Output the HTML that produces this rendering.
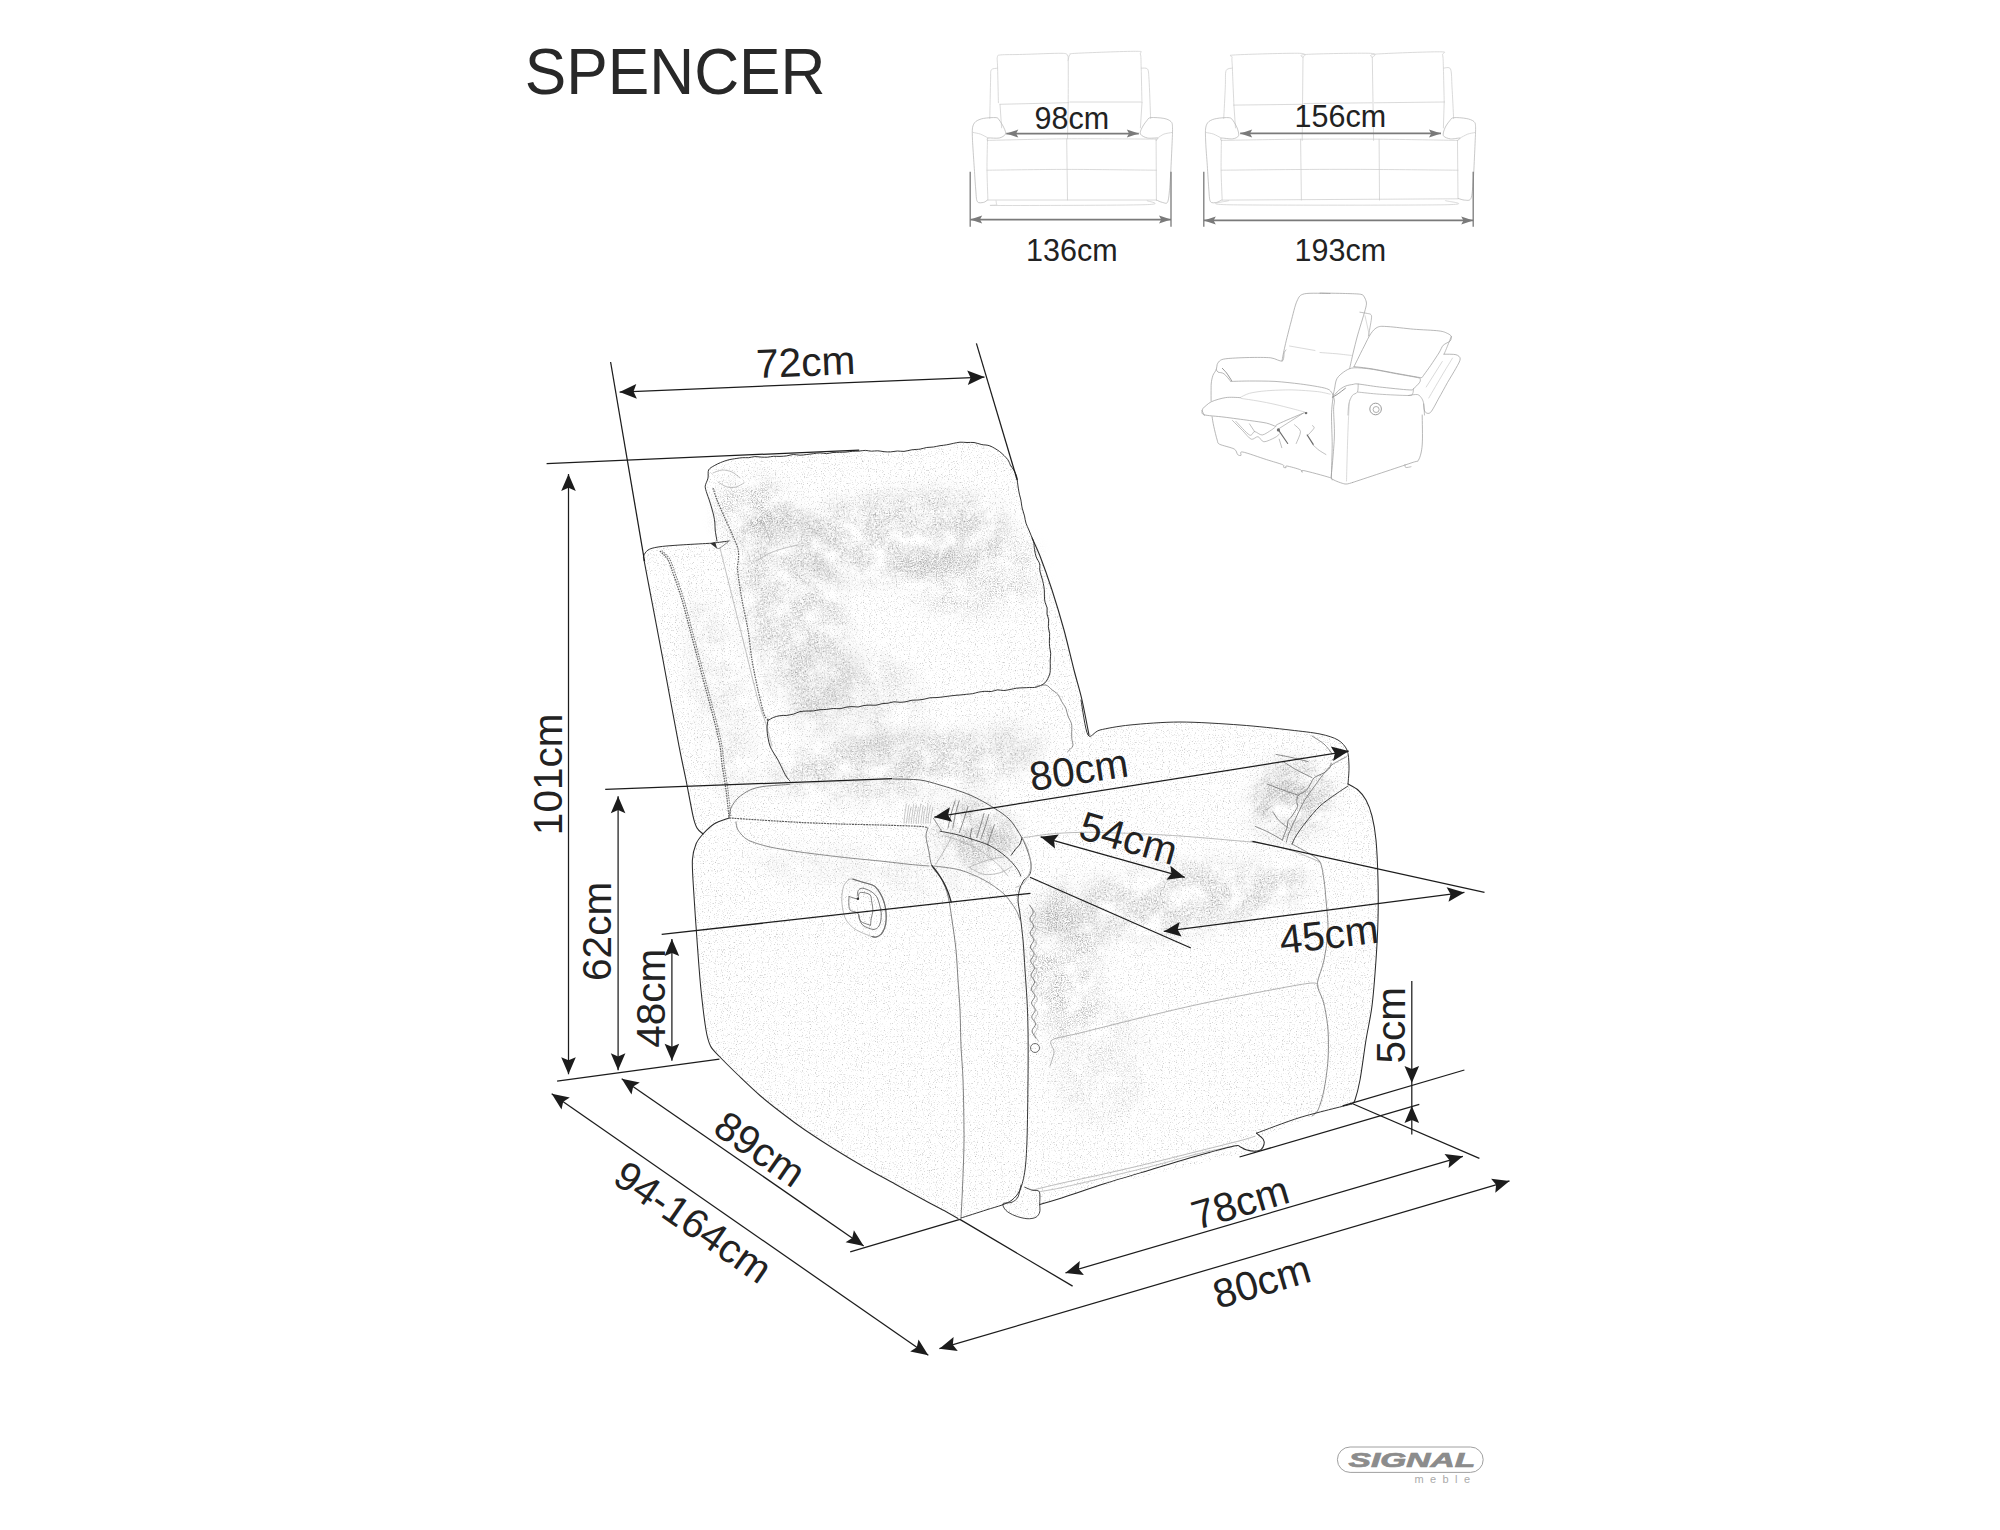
<!DOCTYPE html>
<html><head><meta charset="utf-8"><title>SPENCER</title>
<style>
html,body{margin:0;padding:0;background:#fff}
svg{display:block}
text{font-family:"Liberation Sans",sans-serif}
</style></head>
<body>
<svg width="2000" height="1530" viewBox="0 0 2000 1530">
<defs>
<filter id="grain" x="0" y="0" width="100%" height="100%" color-interpolation-filters="sRGB">
<feTurbulence type="fractalNoise" baseFrequency="0.85" numOctaves="2" seed="3" result="n"/>
<feColorMatrix in="n" type="matrix" values="0 0 0 0 0.55  0 0 0 0 0.55  0 0 0 0 0.55  1.7 0 0 0 -0.97" result="a"/>
<feComposite in="a" in2="SourceGraphic" operator="in"/>
</filter>
<filter id="shade" x="-30%" y="-30%" width="160%" height="160%" color-interpolation-filters="sRGB">
<feGaussianBlur in="SourceGraphic" stdDeviation="9" result="b"/>
<feTurbulence type="fractalNoise" baseFrequency="0.8" numOctaves="2" seed="11" result="n"/>
<feColorMatrix in="n" type="matrix" values="0 0 0 0 0.45  0 0 0 0 0.45  0 0 0 0 0.45  2.4 0 0 0 -1.04" result="a"/>
<feTurbulence type="fractalNoise" baseFrequency="0.045" numOctaves="3" seed="5" result="c"/>
<feColorMatrix in="c" type="matrix" values="0 0 0 0 0  0 0 0 0 0  0 0 0 0 0  3 0 0 0 -0.8" result="ca"/>
<feComposite in="a" in2="b" operator="in" result="r1"/>
<feComposite in="r1" in2="ca" operator="in"/>
</filter>
</defs>
<rect width="2000" height="1530" fill="#fff"/>
<path d="M644 560L643.6 556L648 550L658 547L680 545L708 543.4L714 543L715.6 530L714 516L709 500L706 486L709 470L720 462L736 458L780 456L820 453.6L859 450.4L884 451L904 452L920 448.4L940 446L960 442.4L974 442.4L990 445.6L1000 451L1008 459L1014 470L1018 482L1021 500L1024 516L1029 530L1033 542L1040 556L1052 590L1064 630L1074 670L1082 700L1089 735L1100 730L1130 725L1180 722L1240 725L1290 730L1320 734L1338 740L1347 750L1349 766L1348 784L1358 790L1366 800L1372 816L1376 840L1378 880L1378 920L1376 960L1372 1006L1366 1040L1360 1080L1355 1100L1352 1104L1312 1116L1262 1138L1264 1145L1260 1151L1246 1153L1105.3 1185.5L1042.2 1203.5L1036.2 1217.1L1027.2 1217.8L1015.2 1215.6L1006.1 1210.3L1003.1 1204.3L985.1 1210.3L958.8 1218.6L947.5 1212.5L925 1200.5L895 1184L865 1167.5L835 1149.5L805 1130L782.5 1113.5L760 1095.5L737.5 1074.5L719.5 1056.5L710.5 1046L706 1030L701 990L697 940L693.6 890L692.4 860L696 844L703 834L697 828L693 816L686 780L679 746L663 660L652 602Z" fill="#f6f6f6" stroke="none" filter="url(#grain)"/>
<ellipse cx="795" cy="610" rx="50" ry="120" transform="rotate(-12 795 610)" fill="#000" opacity="0.72" filter="url(#shade)"/>
<ellipse cx="900" cy="535" rx="110" ry="45" transform="rotate(-5 900 535)" fill="#000" opacity="0.72" filter="url(#shade)"/>
<ellipse cx="970" cy="570" rx="70" ry="45" transform="rotate(0 970 570)" fill="#000" opacity="0.5" filter="url(#shade)"/>
<ellipse cx="830" cy="690" rx="40" ry="50" transform="rotate(-10 830 690)" fill="#000" opacity="0.43" filter="url(#shade)"/>
<ellipse cx="900" cy="765" rx="130" ry="32" transform="rotate(-5 900 765)" fill="#000" opacity="0.72" filter="url(#shade)"/>
<ellipse cx="1010" cy="745" rx="40" ry="25" transform="rotate(-5 1010 745)" fill="#000" opacity="0.36" filter="url(#shade)"/>
<ellipse cx="975" cy="835" rx="45" ry="35" transform="rotate(25 975 835)" fill="#000" opacity="0.72" filter="url(#shade)"/>
<ellipse cx="1290" cy="800" rx="45" ry="40" transform="rotate(-30 1290 800)" fill="#000" opacity="0.72" filter="url(#shade)"/>
<ellipse cx="1170" cy="900" rx="140" ry="34" transform="rotate(-8 1170 900)" fill="#000" opacity="0.72" filter="url(#shade)"/>
<ellipse cx="1065" cy="960" rx="35" ry="80" transform="rotate(0 1065 960)" fill="#000" opacity="0.65" filter="url(#shade)"/>
<ellipse cx="1100" cy="1060" rx="50" ry="60" transform="rotate(0 1100 1060)" fill="#000" opacity="0.29" filter="url(#shade)"/>
<ellipse cx="752" cy="512" rx="35" ry="35" transform="rotate(0 752 512)" fill="#000" opacity="0.65" filter="url(#shade)"/>
<ellipse cx="980" cy="832" rx="32" ry="24" transform="rotate(25 980 832)" fill="#000" opacity="0.72" filter="url(#shade)"/>
<ellipse cx="1288" cy="795" rx="30" ry="30" transform="rotate(-30 1288 795)" fill="#000" opacity="0.58" filter="url(#shade)"/>
<ellipse cx="884" cy="712" rx="40" ry="60" transform="rotate(-10 884 712)" fill="#000" opacity="0.43" filter="url(#shade)"/>
<ellipse cx="720" cy="700" rx="25" ry="110" transform="rotate(-12 720 700)" fill="#000" opacity="0.36" filter="url(#shade)"/>
<ellipse cx="870" cy="870" rx="120" ry="20" transform="rotate(5 870 870)" fill="#000" opacity="0.29" filter="url(#shade)"/>
<path d="M717 541C716.7 539.4 715.5 532.8 715.2 530.1C714.9 527.4 715.1 525.1 714.9 523C714.7 520.9 714.3 518.3 713.8 516C713.3 513.8 712.3 510.4 711.7 508C711 505.5 709.9 502.2 709.2 499.9C708.5 497.7 707.4 495.2 706.8 493.1C706.2 491.1 705.1 488.4 705.2 486.2C705.4 483.9 707.5 480.5 708 478.1C708.5 475.7 707.7 471.8 708.6 469.9C709.6 468.1 712.5 466.7 714.2 465.7C716 464.6 718.4 463.5 720.5 462.6C722.5 461.8 725.6 460.6 728 460C730.3 459.3 734 458.9 736.1 458.5C738.3 458.2 740.4 457.8 742.3 457.7C744.2 457.5 746.7 457.8 748.6 457.7C750.5 457.5 752.9 456.7 754.8 456.6C756.7 456.5 759.3 457 761.2 457.1C763 457.2 765.6 457.3 767.5 457.2C769.3 457 771.8 456.4 773.7 456.3C775.6 456.2 778.1 456.5 780 456.4C782 456.3 784.7 456.2 786.7 455.9C788.7 455.6 791.3 454.6 793.3 454.5C795.3 454.4 798 455.2 800 455.2C802 455.2 804.7 454.8 806.7 454.5C808.7 454.3 811.3 453.9 813.3 453.7C815.3 453.4 818 452.9 820 452.9C821.9 452.8 824.6 453.7 826.5 453.6C828.5 453.6 831 452.7 833 452.5C834.9 452.3 837.6 452.4 839.5 452.3C841.5 452.3 844.1 452.2 846 452.1C848 451.9 850.6 451.4 852.5 451.3C854.5 451.1 857.1 451.2 859.1 451.1C861 450.9 863.4 450.4 865.3 450.4C867.1 450.4 869.6 451.1 871.5 451.2C873.4 451.2 875.9 450.7 877.8 450.8C879.6 450.8 882.1 451.5 884 451.7C885.9 451.9 888.6 452 890.6 451.9C892.6 451.8 895.4 451.1 897.4 451C899.4 450.9 901.8 451.6 904 451.4C906.2 451.2 909.5 450.1 911.9 449.8C914.3 449.4 918 449.5 920.2 449.1C922.4 448.8 924.7 447.8 926.7 447.5C928.6 447.2 931.4 447.3 933.4 447C935.4 446.7 938 446 940 445.7C942 445.4 944.7 445.2 946.7 444.8C948.7 444.5 951.3 443.8 953.3 443.4C955.3 443 957.9 442.3 960 442.2C962 442 964.9 442.5 967 442.5C969.1 442.6 971.8 442.2 974 442.5C976.2 442.8 979.5 444.1 981.9 444.6C984.3 445.1 987.3 444.8 989.9 445.9C992.6 446.9 997 449.6 999.7 451.6C1002.3 453.6 1006 457.4 1007.6 459.4C1009.2 461.4 1009.4 463.3 1010.3 464.9C1011.2 466.5 1012.8 468.5 1013.8 470.1C1014.7 471.8 1016 474 1016.5 475.8C1017.1 477.6 1017.2 480.3 1017.5 482.2C1017.7 484 1018 486.3 1018.3 488.1C1018.6 489.9 1019 492.3 1019.4 494.1C1019.8 495.9 1020.5 497.9 1020.9 500C1021.3 502.1 1021.6 505.7 1022.2 508.1C1022.7 510.4 1023.9 513.6 1024.5 515.9C1025 518.2 1025.3 521.1 1026 523.2C1026.7 525.3 1028.1 528.1 1028.9 530C1029.7 531.9 1030.6 534.1 1031.3 535.9C1032 537.7 1033.2 539.7 1033.7 541.8C1034.1 543.8 1034.1 547.2 1034.5 549.5C1034.8 551.7 1035.5 554.7 1036.2 556.9C1037 559 1039.1 561.8 1039.6 563.8C1040.2 565.9 1039.5 568.6 1039.8 570.6C1040.1 572.6 1041.1 575.1 1041.6 577C1042.2 578.9 1042.9 581.4 1043.3 583.4C1043.7 585.3 1044.2 588 1044.3 589.9C1044.5 591.8 1044.3 594.2 1044.4 596.1C1044.5 597.9 1044.6 600.3 1045 602.1C1045.4 603.9 1046.8 606.1 1047.1 607.9C1047.4 609.7 1046.8 612.2 1047 614C1047.3 615.8 1048.5 618 1048.7 619.9C1048.9 621.8 1048.2 624.7 1048.3 626.7C1048.5 628.7 1049.4 631.3 1049.6 633.3C1049.8 635.3 1049.4 638.1 1049.4 640.1C1049.4 642.1 1049.4 644.7 1049.6 646.7C1049.8 648.7 1050.6 651.3 1050.7 653.3C1050.8 655.3 1050.3 658 1050.2 660C1050.1 662.1 1050.4 664.9 1050.3 667C1050.2 669.2 1050.5 671.7 1049.7 674.1C1048.9 676.5 1046.9 681 1044.9 682.9C1042.8 684.9 1038.6 686.4 1036.3 687.1C1034 687.8 1031.5 687.4 1029.5 687.5C1027.6 687.6 1025 687.8 1023 687.8C1021.1 687.9 1018.4 687.9 1016.5 688.2C1014.5 688.4 1012 689.2 1010.1 689.5C1008.2 689.9 1005.7 690.4 1003.8 690.5C1001.9 690.5 999.3 689.8 997.4 689.9C995.5 690.1 993.2 691.3 991.3 691.5C989.4 691.7 986.8 691.2 984.9 691.3C983 691.4 980.5 691.8 978.7 692.1C976.8 692.5 974.4 693.4 972.5 693.7C970.7 694 968.1 694.1 966.3 694.3C964.4 694.5 961.8 694.8 960 695C958.2 695.1 955.8 695.3 954 695.5C952.2 695.7 949.8 696 948 696.2C946.2 696.5 943.8 696.8 942 697C940.2 697.2 937.8 697.5 936 697.6C934.2 697.7 931.7 697.6 929.9 697.8C928.1 698 925.8 698.9 924 699.2C922.2 699.5 919.8 699.9 918 700C916.2 700.2 913.8 700 912 700.2C910.2 700.5 907.8 701.4 906 701.7C904.3 702 901.9 702.3 900 702.3C898.2 702.3 895.7 701.7 893.9 701.8C892.1 702 889.8 702.9 888 703.2C886.2 703.4 883.8 703.4 882 703.7C880.2 704 877.9 705 876.1 705.2C874.3 705.4 871.8 705.1 870 705.1C868.2 705.2 865.8 705.2 864 705.5C862.2 705.7 859.9 706.8 858.1 707C856.3 707.1 853.8 706.6 852 706.6C850.2 706.6 847.8 706.9 846 707.2C844.2 707.5 842 708.5 840.1 708.7C838.2 708.9 835.3 708.4 833.3 708.5C831.3 708.6 828.7 709.2 826.7 709.4C824.7 709.6 822 709.5 820 709.7C818 709.9 815.4 710.7 813.4 710.9C811.4 711.1 808.6 710.9 806.6 711C804.6 711.1 801.9 711.2 800 711.6C798 712.1 795.5 713.5 793.5 714.1C791.5 714.6 788.8 715.1 786.8 715.4C784.8 715.6 781.9 715.4 779.9 715.7C778 716 775.5 716.6 773.8 717.3C772 718 769 719.9 768.1 720.4" stroke="#2b2b2b" stroke-width="0.96" fill="none" stroke-linecap="round" stroke-linejoin="round"/>
<path d="M768 720C767.4 719.1 765.5 718.5 764 714C762.5 709.5 759.8 698.1 758 690C756.2 681.9 753.5 669 752 660C750.5 651 749.5 639 748 630C746.5 621 743.6 609 742 600C740.4 591 738.1 576 737.6 570C737.1 564 738.3 563.1 738.4 560C738.5 556.9 739 552.9 738 549C737 545.1 734.1 539 732 534C729.9 529 726.2 521.1 724 516C721.8 510.9 718.6 504.2 717 500C715.4 495.8 713.6 489.8 713 488" stroke="#666" stroke-width="1.28" fill="none" stroke-linecap="butt" stroke-linejoin="round" stroke-dasharray="1.6 1"/>
<path d="M644 560C645.2 566.3 649.1 587 652 602C654.9 617 659 638.4 663 660C667 681.6 675.5 728 679 746C682.5 764 683.9 769.5 686 780C688.1 790.5 691.4 808.8 693 816C694.6 823.2 695.5 825.3 697 828C698.5 830.7 702.1 833.1 703 834" stroke="#2b2b2b" stroke-width="1.12" fill="none" stroke-linecap="round" stroke-linejoin="round"/>
<path d="M644 560C643.9 559.4 643 557.5 643.6 556C644.2 554.5 645.8 551.4 648 550C650.2 548.6 653.2 547.8 658 547C662.8 546.2 672.5 545.5 680 545C687.5 544.5 702.9 543.7 708 543.4C713.1 543.1 710.9 543.4 714 543C717.1 542.6 726.8 541.3 729 541" stroke="#2b2b2b" stroke-width="0.96" fill="none" stroke-linecap="round" stroke-linejoin="round"/>
<path d="M660 551C661.2 552.4 665.9 556.2 668 560C670.1 563.8 671.9 570 674 576C676.1 582 679.6 591.9 682 600C684.4 608.1 687.6 621 690 630C692.4 639 695.6 651 698 660C700.4 669 703.6 681 706 690C708.4 699 711.9 711.6 714 720C716.1 728.4 718.8 739.4 720 746C721.2 752.6 721.1 757.4 722 764C722.9 770.6 725.1 783.4 726 790C726.9 796.6 727.5 803.8 728 808C728.5 812.2 728.9 816.5 729 818" stroke="#5c5c5c" stroke-width="1.2" fill="none" stroke-linecap="butt" stroke-linejoin="round" stroke-dasharray="1.5 1"/>
<path d="M661.9 550.5C663.1 551.9 667.8 555.8 669.9 559.5C672 563.2 673.8 569.5 675.9 575.5C678 581.5 681.5 591.4 683.9 599.5C686.3 607.6 689.5 620.5 691.9 629.5C694.3 638.5 697.5 650.5 699.9 659.5C702.3 668.5 705.5 680.5 707.9 689.5C710.3 698.5 713.8 711.1 715.9 719.5C718 727.9 720.7 738.9 721.9 745.5C723.1 752.1 723 756.9 723.9 763.5C724.8 770.1 727 782.9 727.9 789.5C728.8 796.1 729.4 803.3 729.9 807.5C730.4 811.7 730.8 816 730.9 817.5" stroke="#777" stroke-width="1.04" fill="none" stroke-linecap="butt" stroke-linejoin="round" stroke-dasharray="1.5 1"/>
<path d="M720 548C721.2 552.8 725.3 569.2 728 580C730.7 590.8 735 608 738 620C741 632 745 648 748 660C751 672 755.3 690.4 758 700C760.7 709.6 763.9 717.1 766 724C768.1 730.9 771.1 742.7 772 746" stroke="#a9a9a9" stroke-width="0.72" fill="none" stroke-linecap="round" stroke-linejoin="round"/>
<path d="M1032 538C1033.2 540.7 1037 548.2 1040 556C1043 563.8 1048.4 578.9 1052 590C1055.6 601.1 1060.7 618 1064 630C1067.3 642 1071.3 659.5 1074 670C1076.7 680.5 1079.8 690.2 1082 700C1084.2 709.8 1088 729.8 1089 735" stroke="#2b2b2b" stroke-width="1.12" fill="none" stroke-linecap="round" stroke-linejoin="round"/>
<path d="M768 720C767.9 721.5 766.7 726.1 767 730C767.3 733.9 768.4 741.5 770 746C771.6 750.5 775.6 755.5 778 760C780.4 764.5 784.2 772.9 786 776C787.8 779.1 789.4 780.2 790 781" stroke="#2b2b2b" stroke-width="0.96" fill="none" stroke-linecap="round" stroke-linejoin="round"/>
<path d="M1036 686.4C1037.5 686.2 1043.6 684.6 1046 685.1C1048.4 685.6 1050.1 688.4 1051.8 689.7C1053.6 691.1 1056.3 692.6 1057.8 694.3C1059.2 696 1060.3 699.2 1061.5 701.3C1062.7 703.3 1064.8 705.9 1065.8 708.1C1066.7 710.4 1067.1 713.8 1068 716.2C1068.9 718.5 1071 721.6 1071.5 723.8C1072.1 726.1 1071.7 729.1 1071.7 731.3C1071.7 733.6 1071.6 736.5 1071.8 738.7C1072 740.9 1073.4 744.1 1072.8 746C1072.2 748 1068.4 750.8 1067.6 751.7" stroke="#6e6e6e" stroke-width="0.8" fill="none" stroke-linecap="round" stroke-linejoin="round"/>
<path d="M729 818C726.8 818.9 717.9 821.6 714 824C710.1 826.4 705.7 831 703 834C700.3 837 697.6 840.1 696 844C694.4 847.9 692.8 853.1 692.4 860C692 866.9 692.9 878 693.6 890C694.3 902 695.9 925 697 940C698.1 955 699.6 976.5 701 990C702.4 1003.5 704.6 1021.6 706 1030C707.4 1038.4 708.5 1042 710.5 1046C712.5 1050 715.4 1052.2 719.5 1056.5C723.5 1060.8 731.4 1068.6 737.5 1074.5C743.6 1080.3 753.2 1089.6 760 1095.5C766.7 1101.3 775.7 1108.3 782.5 1113.5C789.2 1118.7 797.1 1124.6 805 1130C812.9 1135.4 826 1143.9 835 1149.5C844 1155.1 856 1162.3 865 1167.5C874 1172.7 886 1179 895 1184C904 1188.9 917.1 1196.2 925 1200.5C932.9 1204.8 942.5 1209.8 947.5 1212.5C952.4 1215.2 956.4 1217.6 958 1218.5" stroke="#2b2b2b" stroke-width="1.04" fill="none" stroke-linecap="round" stroke-linejoin="round"/>
<path d="M729 818C729.3 816.5 729.6 811 731 808C732.4 805 735.1 800.7 738 798C740.9 795.3 746.1 791.7 750 790C753.9 788.3 758 787.2 764 786.4C770 785.6 786.1 784.7 790 784.4" stroke="#6e6e6e" stroke-width="0.88" fill="none" stroke-linecap="round" stroke-linejoin="round"/>
<path d="M790 784.4C794.5 784.1 804.5 783.2 820 782.4C835.5 781.6 882 779.5 893 779" stroke="#cfcfcf" stroke-width="0.72" fill="none" stroke-linecap="round" stroke-linejoin="round"/>
<path d="M893 779C897 779.1 913 779.1 920 780C927 780.9 932.5 782.8 940 785C947.5 787.2 961.9 791.5 970 795C978.1 798.5 988 804.2 994 808C1000 811.8 1005.8 815.5 1010 820C1014.2 824.5 1019.3 833.2 1022 838C1024.7 842.8 1026.7 848.1 1028 852C1029.3 855.9 1030.7 860.7 1031 864C1031.3 867.3 1031 871.6 1030 874C1029 876.4 1024.9 879.1 1024 880" stroke="#444" stroke-width="0.88" fill="none" stroke-linecap="round" stroke-linejoin="round"/>
<path d="M729 818C733.6 818.3 749.4 819.3 760 820C770.6 820.7 788 821.8 800 822.4C812 823 828 823.6 840 824C852 824.4 868 824.6 880 825C892 825.4 912.8 825.9 920 826.4C927.2 826.9 926.8 827.8 928 828" stroke="#5a5a5a" stroke-width="1.12" fill="none" stroke-linecap="butt" stroke-linejoin="round" stroke-dasharray="2 0.8"/>
<path d="M736 822C736.3 823.2 736.2 827.3 738 830C739.8 832.7 743.2 837.5 748 840C752.8 842.5 762.2 845.2 770 847C777.8 848.8 789.5 850.5 800 852C810.5 853.5 828 855.6 840 857C852 858.4 869.5 859.9 880 861C890.5 862.1 902.6 863.6 910 864.4C917.4 865.1 926.1 865.8 929 866" stroke="#6e6e6e" stroke-width="0.8" fill="none" stroke-linecap="round" stroke-linejoin="round"/>
<path d="M928 828C927.7 829.2 925.9 832.4 926 836C926.1 839.6 928.1 847.5 929 852C929.9 856.5 930 861.8 932 866C934 870.2 939.6 875.5 942 880C944.4 884.5 946.5 890 948 896C949.5 902 950.8 911.9 952 920C953.2 928.1 955.1 941 956 950C956.9 959 957.4 971 958 980C958.6 989 959.5 1000.1 960 1010C960.5 1019.9 960.5 1035.5 961 1046C961.5 1056.5 962.5 1065.9 963 1080C963.5 1094.1 964.1 1123.5 964 1140C963.9 1156.5 962.9 1178.3 962.4 1190C961.9 1201.7 961.2 1213.8 961 1218" stroke="#6e6e6e" stroke-width="0.88" fill="none" stroke-linecap="round" stroke-linejoin="round"/>
<path d="M934 866C937.9 866.6 952.5 867.9 960 870C967.5 872.1 977.4 876.4 984 880C990.6 883.6 999.2 889.5 1004 894C1008.8 898.5 1013.6 906.1 1016 910C1018.4 913.9 1019.4 918.5 1020 920" stroke="#6e6e6e" stroke-width="0.8" fill="none" stroke-linecap="round" stroke-linejoin="round"/>
<path d="M1024 880C1023.4 881.2 1020.9 885 1020 888C1019.1 891 1018 896.1 1018 900C1018 903.9 1019.2 908 1020 914C1020.8 920 1022.2 931.6 1023 940C1023.8 948.4 1024.4 961 1025 970C1025.6 979 1026.5 991 1027 1000C1027.5 1009 1027.8 1018 1028 1030C1028.2 1042 1028.2 1063.5 1028 1080C1027.8 1096.5 1027.5 1126.5 1027 1140C1026.5 1153.5 1026 1162.5 1025 1170C1024 1177.5 1022 1185.5 1020 1190C1018 1194.5 1014.7 1197.8 1012 1200C1009.3 1202.2 1005.9 1203.5 1002 1205C998.1 1206.5 992.1 1208 986 1210C979.9 1212 964.8 1216.8 961 1218" stroke="#2b2b2b" stroke-width="0.96" fill="none" stroke-linecap="round" stroke-linejoin="round"/>
<path d="M1024 837.6C1027.9 837.1 1041.6 834.8 1050 834C1058.4 833.2 1069.5 832.5 1080 832.4C1090.5 832.2 1105 832.5 1120 833C1135 833.5 1160.2 834.6 1180 836C1199.8 837.4 1241.2 841.2 1252 842C1262.8 842.8 1246.3 840.4 1252 841.6C1257.7 842.8 1279.8 846.9 1290 850C1300.2 853.1 1315.5 860.2 1320 862" stroke="#a9a9a9" stroke-width="0.8" fill="none" stroke-linecap="round" stroke-linejoin="round"/>
<path d="M1292 844C1294.7 845.5 1305.8 851.3 1310 854C1314.2 856.7 1317.9 858.1 1320 862C1322.1 865.9 1323.1 874.3 1324 880C1324.9 885.7 1325.4 892.5 1326 900C1326.6 907.5 1328.3 921 1328 930C1327.7 939 1325.5 952.5 1324 960C1322.5 967.5 1318.9 975.8 1318 980C1317.1 984.2 1317.1 984.4 1318 988C1318.9 991.6 1322.5 997.7 1324 1004C1325.5 1010.3 1327.4 1021.6 1328 1030C1328.6 1038.4 1328.6 1051 1328 1060C1327.4 1069 1325.5 1082.5 1324 1090C1322.5 1097.5 1319.8 1106.1 1318 1110C1316.2 1113.9 1312.9 1115.1 1312 1116" stroke="#6e6e6e" stroke-width="0.8" fill="none" stroke-linecap="round" stroke-linejoin="round"/>
<path d="M1050 1066C1050.6 1063.9 1053.7 1055.9 1054 1052C1054.3 1048.1 1048.1 1042.8 1052 1040C1055.9 1037.2 1066.8 1036.3 1080 1033C1093.2 1029.7 1122 1022.4 1140 1018C1158 1013.6 1182 1007.9 1200 1004C1218 1000.1 1243.2 995.1 1260 992C1276.8 988.9 1303.3 983.6 1312 983C1320.7 982.4 1317.1 987.2 1318 988" stroke="#a9a9a9" stroke-width="0.88" fill="none" stroke-linecap="round" stroke-linejoin="round"/>
<path d="M1032.2 1190.2C1036.4 1189.2 1049.1 1186 1060 1183.5C1070.9 1181 1091.5 1176.8 1105 1173.7C1118.5 1170.7 1136.5 1166.5 1150 1163.2C1163.5 1160 1181.5 1155.4 1195 1152C1208.5 1148.6 1231 1143.1 1240 1140.7C1249 1138.4 1252.7 1136.9 1255 1136.2" stroke="#a9a9a9" stroke-width="0.8" fill="none" stroke-linecap="round" stroke-linejoin="round"/>
<path d="M1256.5 1133.2C1263 1130.9 1285.7 1121.9 1300 1117.5C1314.3 1113.1 1344.2 1106 1352 1104" stroke="#2b2b2b" stroke-width="0.96" fill="none" stroke-linecap="round" stroke-linejoin="round"/>
<path d="M1039.3 1191.7C1042.4 1191.2 1050.1 1190.1 1060 1188C1069.9 1185.9 1091.5 1180.7 1105 1177.5C1118.5 1174.3 1136.5 1170.1 1150 1166.7C1163.5 1163.3 1182.4 1157.7 1195 1154.5C1207.6 1151.4 1228.1 1147.3 1234 1146" stroke="#a9a9a9" stroke-width="0.72" fill="none" stroke-linecap="round" stroke-linejoin="round"/>
<path d="M1039.7 1204.5C1042.8 1203.6 1050.2 1201.6 1060 1198.5C1069.8 1195.3 1091.5 1187.8 1105 1183.5C1118.5 1179.2 1136.5 1174 1150 1170C1163.5 1165.9 1182.4 1160.1 1195 1156.5C1207.6 1152.9 1227.2 1147.5 1234 1146C1240.7 1144.5 1238.2 1146.2 1240 1146.7C1241.8 1147.3 1243.7 1149.1 1246 1149.7C1248.2 1150.4 1252.7 1151.2 1255 1151.2C1257.2 1151.2 1259.6 1150.8 1261 1149.7C1262.3 1148.7 1263.6 1146.1 1264 1144.5C1264.3 1142.9 1264.4 1140.9 1263.2 1139.2C1262.1 1137.6 1257.5 1134.1 1256.5 1133.2" stroke="#2b2b2b" stroke-width="1.04" fill="none" stroke-linecap="round" stroke-linejoin="round"/>
<path d="M1021 1185C1020.5 1186.8 1019.3 1194.4 1018 1197C1016.6 1199.6 1014.2 1201.2 1012 1202.2C1009.7 1203.3 1003.9 1202.5 1003 1203.7C1002.1 1205 1004.2 1208.7 1006 1210.5C1007.8 1212.3 1011.8 1214.5 1015 1215.7C1018.1 1217 1023.8 1218.5 1027 1218.7C1030.1 1219 1034.1 1218.3 1036 1217.2C1037.9 1216.2 1039.2 1213.9 1039.7 1212C1040.3 1210.1 1039.8 1207.5 1039.7 1204.5C1039.7 1201.5 1040.4 1193.9 1039.3 1191.7C1038.2 1189.6 1034.4 1190.9 1032.2 1190.2C1030.1 1189.6 1025.9 1187.7 1024.7 1187.2" stroke="#2b2b2b" stroke-width="0.88" fill="none" stroke-linecap="round" stroke-linejoin="round"/>
<path d="M1081 700C1082 705.2 1085.2 730.5 1088 735C1090.8 739.5 1093.7 731.5 1100 730C1106.3 728.5 1118 726.2 1130 725C1142 723.8 1163.5 722 1180 722C1196.5 722 1223.5 723.8 1240 725C1256.5 726.2 1278 728.6 1290 730C1302 731.4 1312.8 732.5 1320 734C1327.2 735.5 1334 737.6 1338 740C1342 742.4 1345.3 746.1 1347 750C1348.7 753.9 1348.8 760.9 1349 766C1349.2 771.1 1348.2 781.3 1348 784" stroke="#2b2b2b" stroke-width="0.96" fill="none" stroke-linecap="round" stroke-linejoin="round"/>
<path d="M1348 784C1349.5 784.9 1355.3 787.6 1358 790C1360.7 792.4 1363.9 796.1 1366 800C1368.1 803.9 1370.5 810 1372 816C1373.5 822 1375.1 830.4 1376 840C1376.9 849.6 1377.7 868 1378 880C1378.3 892 1378.3 908 1378 920C1377.7 932 1376.9 947.1 1376 960C1375.1 972.9 1373.5 994 1372 1006C1370.5 1018 1367.8 1028.9 1366 1040C1364.2 1051.1 1361.7 1071 1360 1080C1358.3 1089 1356.2 1096.4 1355 1100C1353.8 1103.6 1352.5 1103.4 1352 1104" stroke="#2b2b2b" stroke-width="1.04" fill="none" stroke-linecap="round" stroke-linejoin="round"/>
<path d="M1348 786C1346.2 787.2 1340.2 791 1336 794C1331.8 797 1324.5 801.8 1320 806C1315.5 810.2 1309.6 817.5 1306 822C1302.4 826.5 1298.1 832.7 1296 836C1293.9 839.3 1292.6 842.8 1292 844" stroke="#2b2b2b" stroke-width="0.88" fill="none" stroke-linecap="round" stroke-linejoin="round"/>
<path d="M848.2 880C849.6 878.9 851 878.9 852.9 879.1C854.9 879.4 858.2 880.8 861.2 881.8C864.2 882.7 870.5 884.1 872.9 885.3C875.4 886.4 876.2 887.6 877.6 889.4C879.1 891.3 881.2 895 882.4 897.6C883.5 900.3 884.7 903.9 885.3 907.1C885.9 910.2 886.3 915.7 886.2 918.8C886.1 921.9 885.5 925.4 884.7 927.6C884 929.9 882.5 932.7 881.2 934.1C879.9 935.5 877.3 936.7 875.9 937.1C874.5 937.4 874 937.2 871.8 936.5C869.6 935.8 864 933.7 861.2 932.4C858.4 931 855.2 929.6 852.9 927.6C850.6 925.7 847.4 922.1 845.9 919.4C844.4 916.8 843.6 913.2 842.9 910C842.3 906.8 841.7 901.8 841.8 898.2C841.9 894.7 842.6 889.2 843.5 886.5C844.5 883.7 846.8 881.1 848.2 880Z" stroke="#a9a9a9" stroke-width="0.8" fill="none" stroke-linecap="round" stroke-linejoin="round"/>
<path d="M852.9 879.1C854.2 879.5 858.2 880.8 861.2 881.8C864.2 882.7 870.5 884.1 872.9 885.3C875.4 886.4 876.2 887.6 877.6 889.4C879.1 891.3 881.2 895 882.4 897.6C883.5 900.3 884.7 903.9 885.3 907.1C885.9 910.2 886.3 915.7 886.2 918.8C886.1 921.9 885.5 925.4 884.7 927.6C884 929.9 882.5 932.7 881.2 934.1C879.9 935.5 877.3 936.7 875.9 937.1C874.5 937.4 872.4 936.6 871.8 936.5" stroke="#6e6e6e" stroke-width="1.2" fill="none" stroke-linecap="round" stroke-linejoin="round"/>
<path d="M857.6 895.3C857.7 894.6 857.5 891.6 858.2 890.6C858.9 889.5 860.5 888.1 862.4 888.2C864.2 888.3 868.5 889.9 870.6 891.2C872.7 892.4 875.1 894.5 876.5 896.5C877.8 898.4 878.7 901.6 879.4 904.1C880.1 906.6 881 910.3 881.2 912.9C881.4 915.6 881 919.6 880.6 921.8C880.1 923.9 879.2 925.9 878.2 927.1C877.3 928.2 875.5 929.2 874.1 929.4C872.7 929.6 870.5 928.9 868.8 928.2C867.1 927.6 864.3 926.4 862.9 925.3C861.6 924.1 860.6 922.2 860 920.6C859.4 919 859 915.6 858.8 914.7" stroke="#6e6e6e" stroke-width="0.96" fill="none" stroke-linecap="round" stroke-linejoin="round"/>
<path d="M849.1 896.5C850.4 896.8 856.2 899.2 857.6 898.8C859.1 898.5 858.3 895.1 858.8 894.1C859.4 893.1 859.5 892.3 861.2 892.4C862.9 892.4 868.4 893.2 870 894.7C871.6 896.2 871.3 900.1 871.8 902.4C872.2 904.6 873 907.5 872.9 910C872.9 912.5 871.5 916.6 871.2 918.8C870.8 921 870.7 923.8 870.6 924.7" stroke="#6e6e6e" stroke-width="0.88" fill="none" stroke-linecap="round" stroke-linejoin="round"/>
<path d="M849.1 896.5C849.1 897.4 848.7 900.3 848.8 902.4C849 904.4 848.7 908.4 850 910C851.3 911.6 856.2 911.6 857.6 912.9C859.1 914.3 858.7 917.4 859.4 918.8C860.1 920.2 860.7 921.4 862.4 922.4C864 923.3 869.4 924.9 870.6 925.3" stroke="#6e6e6e" stroke-width="0.88" fill="none" stroke-linecap="round" stroke-linejoin="round"/>
<circle cx="857.9" cy="898.8" r="1.3" fill="#333"/>
<path d="M955.2 800.8C954.6 802.7 952.3 809.5 951.2 813.6C950.1 817.7 948.5 825.8 948 828" stroke="#6e6e6e" stroke-width="0.8" fill="none" stroke-linecap="round" stroke-linejoin="round"/>
<path d="M959.2 800.8C958.6 803 956.2 811.1 955.2 815.2C954.2 819.3 953.2 826.1 952.8 828" stroke="#6e6e6e" stroke-width="0.8" fill="none" stroke-linecap="round" stroke-linejoin="round"/>
<path d="M968 806.4C967.3 808.7 964.5 817.6 963.2 821.6C961.9 825.6 959.8 831.1 959.2 832.8" stroke="#6e6e6e" stroke-width="0.8" fill="none" stroke-linecap="round" stroke-linejoin="round"/>
<path d="M984 813.6C983.5 815.3 981.9 821.2 980.8 824.8C979.7 828.4 977.4 835.7 976.8 837.6" stroke="#6e6e6e" stroke-width="0.8" fill="none" stroke-linecap="round" stroke-linejoin="round"/>
<path d="M988.8 814.4C988.2 816.4 986 824.3 984.8 828C983.6 831.7 981.4 837.5 980.8 839.2" stroke="#6e6e6e" stroke-width="0.8" fill="none" stroke-linecap="round" stroke-linejoin="round"/>
<path d="M994.4 824.8C993.8 826.5 991.4 833.1 990.4 836C989.4 838.9 988.4 842.8 988 844" stroke="#6e6e6e" stroke-width="0.8" fill="none" stroke-linecap="round" stroke-linejoin="round"/>
<path d="M933.6 818.4C934.2 819.4 936.4 822.9 937.6 824.8C938.8 826.7 941 830.2 941.6 831.2" stroke="#6e6e6e" stroke-width="0.8" fill="none" stroke-linecap="round" stroke-linejoin="round"/>
<path d="M972 828C971.8 829.2 970.4 834.1 970.4 836C970.4 837.9 971.8 840.1 972 840.8" stroke="#6e6e6e" stroke-width="0.8" fill="none" stroke-linecap="round" stroke-linejoin="round"/>
<path d="M906.4 804C906.2 805.6 905.2 811.5 904.8 814.4C904.4 817.3 904.1 821.9 904 823.2" stroke="#a9a9a9" stroke-width="0.64" fill="none" stroke-linecap="round" stroke-linejoin="round"/>
<path d="M908.8 805.6C908.6 807.3 907.6 814.2 907.2 816.8C906.8 819.4 906.5 822.2 906.4 823.2" stroke="#a9a9a9" stroke-width="0.64" fill="none" stroke-linecap="round" stroke-linejoin="round"/>
<path d="M911.2 807.2C911 808.3 910 812 909.6 814.4C909.2 816.8 908.9 821.9 908.8 823.2" stroke="#a9a9a9" stroke-width="0.64" fill="none" stroke-linecap="round" stroke-linejoin="round"/>
<path d="M913.6 804C913.4 805.9 912.4 813.9 912 816.8C911.6 819.7 911.3 822.2 911.2 823.2" stroke="#a9a9a9" stroke-width="0.64" fill="none" stroke-linecap="round" stroke-linejoin="round"/>
<path d="M916 805.6C915.8 806.9 914.8 811.8 914.4 814.4C914 817 913.7 821.9 913.6 823.2" stroke="#a9a9a9" stroke-width="0.64" fill="none" stroke-linecap="round" stroke-linejoin="round"/>
<path d="M918.4 807.2C918.2 808.6 917.2 814.4 916.8 816.8C916.4 819.2 916.1 822.2 916 823.2" stroke="#a9a9a9" stroke-width="0.64" fill="none" stroke-linecap="round" stroke-linejoin="round"/>
<path d="M920.8 804C920.6 805.6 919.6 811.5 919.2 814.4C918.8 817.3 918.5 821.9 918.4 823.2" stroke="#a9a9a9" stroke-width="0.64" fill="none" stroke-linecap="round" stroke-linejoin="round"/>
<path d="M923.2 805.6C923 807.3 922 814.2 921.6 816.8C921.2 819.4 920.9 822.2 920.8 823.2" stroke="#a9a9a9" stroke-width="0.64" fill="none" stroke-linecap="round" stroke-linejoin="round"/>
<path d="M925.6 807.2C925.4 808.3 924.4 812 924 814.4C923.6 816.8 923.3 821.9 923.2 823.2" stroke="#a9a9a9" stroke-width="0.64" fill="none" stroke-linecap="round" stroke-linejoin="round"/>
<path d="M928 804C927.8 805.9 926.8 813.9 926.4 816.8C926 819.7 925.7 822.2 925.6 823.2" stroke="#a9a9a9" stroke-width="0.64" fill="none" stroke-linecap="round" stroke-linejoin="round"/>
<path d="M930.4 805.6C930.2 806.9 929.2 811.8 928.8 814.4C928.4 817 928.1 821.9 928 823.2" stroke="#a9a9a9" stroke-width="0.64" fill="none" stroke-linecap="round" stroke-linejoin="round"/>
<path d="M932.8 807.2C932.6 808.6 931.6 814.4 931.2 816.8C930.8 819.2 930.5 822.2 930.4 823.2" stroke="#a9a9a9" stroke-width="0.64" fill="none" stroke-linecap="round" stroke-linejoin="round"/>
<path d="M940 831.2C942.4 831.7 951.2 833.2 956 834.4C960.8 835.6 967.2 837.6 972 839.2C976.8 840.8 983.8 842.9 988 844.8C992.2 846.7 996.6 849.6 1000 852C1003.4 854.4 1007.8 858.2 1010.4 860.8C1013 863.4 1016 867.3 1017.6 869.6C1019.2 871.9 1020.3 875 1020.8 876" stroke="#2b2b2b" stroke-width="0.88" fill="none" stroke-linecap="round" stroke-linejoin="round"/>
<path d="M944.8 836C947.1 836.7 955.3 839 960 840.8C964.7 842.6 971.8 845.7 976 848C980.2 850.3 984.4 853.2 988 856C991.6 858.8 997 863.4 1000 866.4C1003 869.4 1006.8 874.6 1008 876" stroke="#a9a9a9" stroke-width="0.72" fill="none" stroke-linecap="round" stroke-linejoin="round"/>
<path d="M1022 837.6C1021.7 838.6 1021 842.2 1020 844C1019 845.8 1016.5 847.9 1015.2 849.6C1013.9 851.3 1011.8 854.4 1011.2 855.2" stroke="#2b2b2b" stroke-width="0.96" fill="none" stroke-linecap="round" stroke-linejoin="round"/>
<path d="M1022 837.6C1022.7 838.8 1025.3 842.8 1026.4 845.6C1027.5 848.4 1028.9 852.9 1029.6 856C1030.3 859.1 1031.4 863.4 1031.2 866.4C1031 869.4 1029.2 873.4 1028 876C1026.8 878.6 1025 882.3 1023.2 884C1021.4 885.7 1017.1 886.7 1016 887.2" stroke="#a9a9a9" stroke-width="0.8" fill="none" stroke-linecap="round" stroke-linejoin="round"/>
<path d="M932 865.6C932.8 866.7 935.9 870.4 937.6 872.8C939.3 875.2 941.6 878.7 943.2 881.6C944.8 884.5 946.8 888.9 948 892C949.2 895.1 950.7 900.5 951.2 902" stroke="#2b2b2b" stroke-width="1.28" fill="none" stroke-linecap="round" stroke-linejoin="round"/>
<path d="M936 864C937.1 862.2 941.4 855 943.2 852C945 849 946.8 846.4 948 844C949.2 841.6 950.7 837.2 951.2 836" stroke="#a9a9a9" stroke-width="0.72" fill="none" stroke-linecap="round" stroke-linejoin="round"/>
<path d="M968.8 867.2C971.7 866.1 982.7 861.6 988 860C993.3 858.4 1001.6 857.3 1004 856.8" stroke="#a9a9a9" stroke-width="0.72" fill="none" stroke-linecap="round" stroke-linejoin="round"/>
<path d="M968.8 867.2C971.1 868.3 979.3 873.6 984 874.4C988.7 875.2 995.8 874 1000 872.8C1004.2 871.6 1010.2 867.4 1012 866.4" stroke="#a9a9a9" stroke-width="0.72" fill="none" stroke-linecap="round" stroke-linejoin="round"/>
<path d="M1029.5 905C1030.1 906 1033.3 909.9 1033.3 912C1033.4 914.1 1029.7 916.9 1029.8 919C1029.8 921.1 1033.6 923.9 1033.6 926C1033.7 928.1 1030 930.9 1030.1 933C1030.1 935.1 1033.9 937.9 1033.9 940C1033.9 942.1 1030.3 944.9 1030.3 947C1030.4 949.1 1034.1 951.9 1034.2 954C1034.2 956.1 1030.6 958.9 1030.6 961C1030.7 963.1 1034.4 965.9 1034.5 968C1034.5 970.1 1030.9 972.9 1030.9 975C1030.9 977.1 1034.7 979.9 1034.7 982C1034.8 984.1 1031.1 986.9 1031.2 989C1031.2 991.1 1035 993.9 1035 996C1035.1 998.1 1031.4 1000.9 1031.5 1003C1031.5 1005.1 1035.3 1007.9 1035.3 1010C1035.3 1012.1 1031.7 1014.9 1031.7 1017C1031.8 1019.1 1035.5 1021.9 1035.6 1024C1035.6 1026.1 1032 1028.9 1032 1031C1032.1 1033.1 1035.3 1037 1035.9 1038" stroke="#6e6e6e" stroke-width="0.88" fill="none" stroke-linecap="round" stroke-linejoin="round"/>
<path d="M1032 908C1032.6 909 1035.8 912.9 1035.8 915C1035.9 917.1 1032.2 919.9 1032.3 922C1032.3 924.1 1036.1 926.9 1036.1 929C1036.2 931.1 1032.5 933.9 1032.6 936C1032.6 938.1 1036.4 940.9 1036.4 943C1036.4 945.1 1032.8 947.9 1032.8 950C1032.9 952.1 1036.6 954.9 1036.7 957C1036.7 959.1 1033.1 961.9 1033.1 964C1033.2 966.1 1036.9 968.9 1037 971C1037 973.1 1033.4 975.9 1033.4 978C1033.4 980.1 1037.2 982.9 1037.2 985C1037.3 987.1 1033.6 989.9 1033.7 992C1033.7 994.1 1037.5 996.9 1037.5 999C1037.6 1001.1 1033.9 1003.9 1034 1006C1034 1008.1 1037.8 1010.9 1037.8 1013C1037.8 1015.1 1034.2 1017.9 1034.2 1020C1034.3 1022.1 1038 1024.9 1038.1 1027C1038.1 1029.1 1034.5 1031.9 1034.5 1034C1034.6 1036.1 1037.8 1040 1038.4 1041" stroke="#a9a9a9" stroke-width="0.72" fill="none" stroke-linecap="round" stroke-linejoin="round"/>
<circle cx="1035" cy="1048" r="4.5" fill="none" stroke="#6e6e6e" stroke-width="1"/>
<path d="M1331.2 763.2C1331 763.9 1330.7 766.6 1329.6 768C1328.5 769.4 1326.3 771.4 1324 772.8C1321.7 774.2 1316.4 775.9 1314.4 777.6C1312.4 779.3 1311.6 782.1 1310.4 784C1309.2 785.9 1308.2 788.7 1306.4 790.4C1304.6 792.1 1299.8 793.5 1298.4 795.2C1297 796.9 1296.9 799.9 1296.8 801.6C1296.7 803.3 1298.3 804.2 1297.6 806.4C1296.9 808.6 1293.4 813.8 1292 816C1290.6 818.2 1288.7 819.1 1288 820.8C1287.3 822.5 1287.8 825 1287.2 827.2C1286.6 829.4 1284.7 833.3 1284 835.2C1283.3 837.1 1282.6 839.3 1282.4 840" stroke="#6e6e6e" stroke-width="0.88" fill="none" stroke-linecap="round" stroke-linejoin="round"/>
<path d="M1346.4 756.8C1344.2 758 1335.5 762.2 1332 764.8C1328.5 767.4 1325.8 771.2 1323.2 774.4C1320.6 777.6 1317.2 782.6 1314.4 786.4C1311.6 790.2 1307.4 795.6 1304.8 800C1302.2 804.4 1299.2 811 1296.8 816C1294.4 821 1290.4 829.7 1288.8 833.6C1287.2 837.5 1286.8 840.7 1286.4 842" stroke="#6e6e6e" stroke-width="0.8" fill="none" stroke-linecap="round" stroke-linejoin="round"/>
<path d="M1283.2 761.6C1285.1 762.8 1291.7 767.2 1296 769.6C1300.3 772 1309.6 776.4 1312 777.6" stroke="#6e6e6e" stroke-width="0.8" fill="none" stroke-linecap="round" stroke-linejoin="round"/>
<path d="M1267.2 784C1269.7 785 1279.3 788.7 1284 790.4C1288.7 792.1 1296.2 794.5 1298.4 795.2" stroke="#6e6e6e" stroke-width="0.8" fill="none" stroke-linecap="round" stroke-linejoin="round"/>
<path d="M1255.2 826.4C1257.1 827.2 1263.9 830 1268 832C1272.1 834 1280.2 838.8 1282.4 840" stroke="#6e6e6e" stroke-width="0.8" fill="none" stroke-linecap="round" stroke-linejoin="round"/>
<path d="M1272.8 812C1273.8 813.3 1277 818.5 1279.2 820.8C1281.4 823.1 1286 826.2 1287.2 827.2" stroke="#6e6e6e" stroke-width="0.8" fill="none" stroke-linecap="round" stroke-linejoin="round"/>
<path d="M1312 736C1313.8 737.2 1321 741.4 1324 744C1327 746.6 1330.8 752.2 1332 753.6" stroke="#6e6e6e" stroke-width="0.8" fill="none" stroke-linecap="round" stroke-linejoin="round"/>
<path d="M1276 754.4C1278.4 754.9 1287.2 756.5 1292 757.6C1296.8 758.7 1305.6 761 1308 761.6" stroke="#6e6e6e" stroke-width="0.8" fill="none" stroke-linecap="round" stroke-linejoin="round"/>
<path d="M1332 760C1333.2 759.3 1337.7 756.4 1340 755.2C1342.3 754 1346.1 752.5 1347.2 752" stroke="#6e6e6e" stroke-width="0.8" fill="none" stroke-linecap="round" stroke-linejoin="round"/>
<path d="M710 543.2L715.2 542L717.2 548.8Z" fill="#333"/>
<path d="M717.2 548.5C717.6 548.4 718.4 549 720 548C721.6 547 726.8 542.9 728 542" stroke="#6e6e6e" stroke-width="0.8" fill="none" stroke-linecap="round" stroke-linejoin="round"/>
<path d="M713 473C714.4 472.6 719.1 470.1 722 470C724.9 469.9 729.3 470.8 732 472C734.7 473.2 738.8 477.1 740 478" stroke="#a9a9a9" stroke-width="0.72" fill="none" stroke-linecap="round" stroke-linejoin="round"/>
<path d="M718 482C719.4 482.8 724.3 486.2 727 487C729.7 487.8 733.5 487.6 736 487C738.5 486.4 742.8 483.6 744 483" stroke="#a9a9a9" stroke-width="0.72" fill="none" stroke-linecap="round" stroke-linejoin="round"/>
<path d="M760 520C760.9 521.5 764.5 527 766 530C767.5 533 769.4 538.5 770 540" stroke="#a9a9a9" stroke-width="0.72" fill="none" stroke-linecap="round" stroke-linejoin="round"/>
<path d="M758 560C759.8 559 766 554.8 770 553C774 551.2 780.8 549.2 785 548C789.2 546.8 796 545.5 798 545" stroke="#a9a9a9" stroke-width="0.72" fill="none" stroke-linecap="round" stroke-linejoin="round"/>
<path d="M998.4 102.7C998.3 97.6 997.8 75.1 997.6 68.2C997.5 61.4 996.9 59.3 997.3 57.3C997.8 55.3 997 55.3 1000.8 54.9C1004.6 54.5 1013.6 54.7 1022.7 54.4C1031.9 54.2 1055.3 53.1 1062 53.3C1068.7 53.5 1066.5 54.6 1067.5 55.7C1068.4 56.7 1068.1 53.3 1068.2 60.4C1068.4 67.5 1068.2 96.4 1068.2 102.7" stroke="#cccccc" stroke-width="0.72" fill="none" stroke-linecap="round" stroke-linejoin="round"/>
<path d="M1068.2 60.4C1068.5 59.6 1068.6 56 1069.8 54.9C1071 53.8 1066.2 53.9 1076.1 53.3C1086 52.8 1126 51.2 1135.7 51.3C1145.3 51.4 1139.6 51.6 1140.4 54.1C1141.2 56.7 1140.9 60.9 1141.2 68.2C1141.4 75.5 1141.8 97.6 1142 102.7" stroke="#cccccc" stroke-width="0.72" fill="none" stroke-linecap="round" stroke-linejoin="round"/>
<path d="M1000 104.3L1068.2 102.7" stroke="#cccccc" stroke-width="0.72" fill="none" stroke-linecap="round" stroke-linejoin="round"/>
<path d="M1069.8 102L1141.2 102" stroke="#cccccc" stroke-width="0.72" fill="none" stroke-linecap="round" stroke-linejoin="round"/>
<path d="M1000 104.3L1001.6 127.8" stroke="#cccccc" stroke-width="0.72" fill="none" stroke-linecap="round" stroke-linejoin="round"/>
<path d="M1142 102.7L1140.4 127.8" stroke="#cccccc" stroke-width="0.72" fill="none" stroke-linecap="round" stroke-linejoin="round"/>
<path d="M1068.2 102.7L1067.5 138.8" stroke="#cccccc" stroke-width="0.72" fill="none" stroke-linecap="round" stroke-linejoin="round"/>
<path d="M997.6 68.2C996.7 68.5 992.4 68.2 991.4 69.8C990.3 71.5 990.8 71.9 990.6 79.2C990.4 86.5 989.9 112.5 989.8 118.4" stroke="#cccccc" stroke-width="0.72" fill="none" stroke-linecap="round" stroke-linejoin="round"/>
<path d="M1141.2 68.2C1142.1 68.4 1146.3 67.4 1147.5 69C1148.6 70.7 1148.5 71.8 1149 79.2C1149.5 86.6 1150.4 112.5 1150.6 118.4" stroke="#cccccc" stroke-width="0.72" fill="none" stroke-linecap="round" stroke-linejoin="round"/>
<path d="M987.5 140.4C987.6 140 986.5 138.4 988.2 138C990 137.7 996.6 138.6 999.2 138C1001.8 137.5 1004.8 135.6 1005.5 134.1C1006.2 132.6 1004.9 130 1003.9 127.8C1003 125.7 1000.4 121.5 999.2 120C998 118.5 998.4 117.9 996.1 117.6C993.7 117.4 986.6 117.8 983.5 118.4C980.5 119 977.3 120.2 975.7 121.6C974 123 973 125 972.5 127.8C972.1 130.7 972.3 134.7 972.5 140.4C972.8 146 973.6 158.2 974.1 165.5C974.6 172.8 975.2 183.6 975.7 189C976.2 194.4 976.1 199.6 977.3 201.6C978.4 203.6 982 202.6 983.5 202.4C985.1 202.1 986.9 200.4 987.5 200" stroke="#b4b4b4" stroke-width="0.72" fill="none" stroke-linecap="round" stroke-linejoin="round"/>
<path d="M973.3 132.5C974.4 132.8 978.2 133.3 980.4 134.1C982.6 134.9 987.1 137.5 988.2 138" stroke="#cccccc" stroke-width="0.72" fill="none" stroke-linecap="round" stroke-linejoin="round"/>
<path d="M1156.1 140.4C1156.3 140 1158.9 138.4 1157.6 138C1156.4 137.7 1150 138.6 1147.5 138C1144.9 137.5 1141.2 135.6 1140.4 134.1C1139.6 132.6 1141 129.8 1142 127.8C1142.9 125.8 1145.4 122.3 1146.7 120.8C1148 119.3 1148 118 1150.6 117.6C1153.2 117.3 1160.9 117.8 1163.9 118.4C1167 119 1169.7 120.2 1171 121.6C1172.3 123 1172.4 123.6 1172.5 127.8C1172.7 132.1 1172.1 141.8 1171.8 149.8C1171.4 157.8 1170.8 173.4 1170.2 181.2C1169.6 188.9 1169 198.4 1167.8 201.6C1166.7 204.7 1164.1 202.6 1162.4 202.4C1160.6 202.1 1157.3 200.4 1156.4 200" stroke="#b4b4b4" stroke-width="0.72" fill="none" stroke-linecap="round" stroke-linejoin="round"/>
<path d="M1171.8 132.5C1170.6 132.8 1166 133.3 1163.9 134.1C1161.8 134.9 1158.6 137.5 1157.6 138" stroke="#cccccc" stroke-width="0.72" fill="none" stroke-linecap="round" stroke-linejoin="round"/>
<path d="M987.5 140.4C999.3 140.2 1041.4 139 1066.7 138.8C1092 138.6 1142.7 139.1 1156.1 139.1" stroke="#cccccc" stroke-width="0.72" fill="none" stroke-linecap="round" stroke-linejoin="round"/>
<path d="M987.5 140.4C987.4 144.9 986.9 161.3 987 170.2C987.1 179.1 987.8 195.5 987.9 200" stroke="#cccccc" stroke-width="0.72" fill="none" stroke-linecap="round" stroke-linejoin="round"/>
<path d="M1066.7 138.8L1067.5 200" stroke="#cccccc" stroke-width="0.72" fill="none" stroke-linecap="round" stroke-linejoin="round"/>
<path d="M1156.1 139.1L1156.4 200" stroke="#cccccc" stroke-width="0.72" fill="none" stroke-linecap="round" stroke-linejoin="round"/>
<path d="M987 170.2C998.9 170.1 1041.3 169.4 1066.7 169.4C1092.1 169.4 1142.9 170.1 1156.4 170.2" stroke="#cccccc" stroke-width="0.72" fill="none" stroke-linecap="round" stroke-linejoin="round"/>
<path d="M987.9 200L1156.4 200" stroke="#cccccc" stroke-width="0.72" fill="none" stroke-linecap="round" stroke-linejoin="round"/>
<path d="M996.1 200.8C996.2 201.4 996.2 204 996.9 204.7C997.6 205.4 978.5 205.5 1000.8 205.5C1023 205.5 1123.2 205.4 1145.1 204.7C1167 204 1146.4 201.4 1146.7 200.8" stroke="#cccccc" stroke-width="0.72" fill="none" stroke-linecap="round" stroke-linejoin="round"/>
<path d="M1233.9 105.1C1233.7 99.6 1232.6 75.4 1232.4 68.2C1232.1 61.1 1231.6 59.3 1232.1 57.3C1232.5 55.3 1225.3 55.5 1235.5 54.9C1245.7 54.3 1289.7 53 1299.8 53.3C1310 53.7 1302 57.1 1303 57.3C1303.9 57.4 1296 55 1306.1 54.4C1316.2 53.8 1360.5 52.9 1370.4 53.3C1380.4 53.8 1371.5 57.1 1372.3 57.3C1373.2 57.4 1365.9 54.9 1375.9 54.1C1386 53.3 1429.5 51.7 1439.5 51.8C1449.5 51.9 1442 52.4 1442.6 54.9C1443.2 57.4 1443.2 61.2 1443.4 68.2C1443.6 75.3 1444.1 96.9 1444.2 102" stroke="#cccccc" stroke-width="0.72" fill="none" stroke-linecap="round" stroke-linejoin="round"/>
<path d="M1303 57.3L1302.2 140.4" stroke="#cccccc" stroke-width="0.72" fill="none" stroke-linecap="round" stroke-linejoin="round"/>
<path d="M1372.3 57.3L1373.6 140.4" stroke="#cccccc" stroke-width="0.72" fill="none" stroke-linecap="round" stroke-linejoin="round"/>
<path d="M1233.9 105.1L1302.2 104.3" stroke="#cccccc" stroke-width="0.72" fill="none" stroke-linecap="round" stroke-linejoin="round"/>
<path d="M1303.8 103.5L1372 102.8" stroke="#cccccc" stroke-width="0.72" fill="none" stroke-linecap="round" stroke-linejoin="round"/>
<path d="M1374.4 102.8L1444.2 102" stroke="#cccccc" stroke-width="0.72" fill="none" stroke-linecap="round" stroke-linejoin="round"/>
<path d="M1233.9 105.1L1235.5 127.9" stroke="#cccccc" stroke-width="0.72" fill="none" stroke-linecap="round" stroke-linejoin="round"/>
<path d="M1444.2 102L1443.4 127.9" stroke="#cccccc" stroke-width="0.72" fill="none" stroke-linecap="round" stroke-linejoin="round"/>
<path d="M1232.4 68.2C1231.4 68.6 1227.1 67.8 1226.1 70.6C1225 73.4 1225.7 79.9 1225.3 87.1C1225 94.3 1224 113.7 1223.7 118.5" stroke="#cccccc" stroke-width="0.72" fill="none" stroke-linecap="round" stroke-linejoin="round"/>
<path d="M1443.4 68.2C1444.5 68.4 1449.2 66.2 1450.5 69C1451.8 71.9 1451.6 79.7 1452 87.1C1452.5 94.5 1453.4 113.7 1453.6 118.5" stroke="#cccccc" stroke-width="0.72" fill="none" stroke-linecap="round" stroke-linejoin="round"/>
<path d="M1221.4 140.4C1221.4 140.1 1219.7 138.3 1221.4 138.1C1223 137.8 1229.8 139.2 1232.4 138.9C1235 138.5 1237.9 137.4 1238.6 135.7C1239.3 134.1 1237.9 130.1 1237.1 127.9C1236.2 125.6 1234.3 122.3 1233.2 120.8C1232 119.3 1231.7 118 1229.2 117.7C1226.8 117.3 1219.7 117.9 1216.7 118.5C1213.6 119 1210.5 120.2 1208.8 121.6C1207.2 123 1206.2 124.8 1205.7 127.9C1205.2 130.9 1205.5 136.3 1205.7 142C1205.9 147.6 1206.8 158.5 1207.3 165.5C1207.7 172.6 1208.4 183.7 1208.8 189.1C1209.3 194.5 1209.2 199.6 1210.4 201.6C1211.6 203.6 1215 202.6 1216.7 202.4C1218.3 202.2 1220.7 200.4 1221.4 200.1" stroke="#b4b4b4" stroke-width="0.72" fill="none" stroke-linecap="round" stroke-linejoin="round"/>
<path d="M1206.5 132.6C1207.5 132.8 1211.3 133.3 1213.5 134.1C1215.8 135 1220.2 137.5 1221.4 138.1" stroke="#cccccc" stroke-width="0.72" fill="none" stroke-linecap="round" stroke-linejoin="round"/>
<path d="M1457.5 140.4C1457.9 140.1 1460.9 138.3 1459.9 138.1C1458.8 137.8 1452.9 139.2 1450.5 138.9C1448 138.5 1444.2 137.4 1443.4 135.7C1442.6 134.1 1444 130.1 1445 127.9C1445.9 125.6 1448.4 122.3 1449.7 120.8C1451 119.3 1451.1 118 1453.6 117.7C1456.1 117.3 1463.1 117.9 1466.2 118.5C1469.2 119 1472.6 120.2 1474 121.6C1475.4 123 1475.5 123.6 1475.6 127.9C1475.7 132.1 1475.1 141.8 1474.8 149.8C1474.4 157.8 1473.8 173.9 1473.2 181.2C1472.6 188.5 1472.2 195.7 1470.9 198.5C1469.6 201.3 1466.5 200.1 1464.6 200.1C1462.7 200.1 1459.3 198.7 1458.3 198.5" stroke="#b4b4b4" stroke-width="0.72" fill="none" stroke-linecap="round" stroke-linejoin="round"/>
<path d="M1474.8 132.6C1473.7 132.8 1470 133.3 1467.7 134.1C1465.5 135 1461.1 137.5 1459.9 138.1" stroke="#cccccc" stroke-width="0.72" fill="none" stroke-linecap="round" stroke-linejoin="round"/>
<path d="M1221.4 140.4C1233.3 140.2 1277 139.4 1300.6 139.2C1324.3 139 1355.5 139 1379.1 139.2C1402.6 139.4 1445.8 140.2 1457.5 140.4" stroke="#cccccc" stroke-width="0.72" fill="none" stroke-linecap="round" stroke-linejoin="round"/>
<path d="M1221.4 140.4C1221.3 144.9 1221 161.3 1221.1 170.2C1221.2 179.2 1222 195.6 1222.2 200.1" stroke="#cccccc" stroke-width="0.72" fill="none" stroke-linecap="round" stroke-linejoin="round"/>
<path d="M1457.5 140.4L1458 198.5" stroke="#cccccc" stroke-width="0.72" fill="none" stroke-linecap="round" stroke-linejoin="round"/>
<path d="M1300.6 139.2L1301.4 200.1" stroke="#cccccc" stroke-width="0.72" fill="none" stroke-linecap="round" stroke-linejoin="round"/>
<path d="M1379.1 139.2L1379.5 200.1" stroke="#cccccc" stroke-width="0.72" fill="none" stroke-linecap="round" stroke-linejoin="round"/>
<path d="M1221.1 170.2C1233 170.1 1276.9 169.6 1300.6 169.5C1324.3 169.3 1355.5 169.3 1379.1 169.5C1402.7 169.6 1446.2 170.1 1458 170.2" stroke="#cccccc" stroke-width="0.72" fill="none" stroke-linecap="round" stroke-linejoin="round"/>
<path d="M1222.2 200.1L1458 198.8" stroke="#cccccc" stroke-width="0.72" fill="none" stroke-linecap="round" stroke-linejoin="round"/>
<path d="M1229.2 200.8C1229.3 201.4 1197.8 204.2 1230 204.8C1262.3 205.3 1412 205.3 1444.2 204.8C1476.4 204.2 1444.9 201.4 1445 200.8" stroke="#cccccc" stroke-width="0.72" fill="none" stroke-linecap="round" stroke-linejoin="round"/>
<path d="M1282 361C1282.4 358.7 1283.6 351.8 1285 346C1286.3 340.1 1289.2 328.7 1291 322C1292.8 315.2 1295 305.2 1297 301C1299 296.8 1299.5 294.9 1304.5 293.8C1309.4 292.7 1326.2 293.5 1330 293.5" stroke="#9c9c9c" stroke-width="0.72" fill="none" stroke-linecap="round" stroke-linejoin="round"/>
<path d="M1320 293.1C1323.8 293.1 1339.4 293.3 1345.5 293.5C1351.6 293.7 1358 293.8 1360.8 294.3C1363.6 294.9 1363.4 295.7 1364.2 296.9C1365 298 1366 300.5 1366.3 302C1366.6 303.5 1366.5 304.5 1365.9 307.1C1365.3 309.6 1363.8 314.7 1362.5 319C1361.2 323.3 1358.8 330.9 1357.4 336C1356 341.1 1354.3 348.1 1353.1 353C1352 357.8 1350.2 366 1349.7 368.3" stroke="#9c9c9c" stroke-width="0.72" fill="none" stroke-linecap="round" stroke-linejoin="round"/>
<path d="M1359.9 312.2C1361.1 312.4 1365.9 313.1 1367.6 313.5C1369.2 313.8 1370.4 313.9 1371 314.7C1371.6 315.6 1371.8 315.8 1371.4 319C1371 322.2 1368.9 333.4 1368.4 336" stroke="#9c9c9c" stroke-width="0.64" fill="none" stroke-linecap="round" stroke-linejoin="round"/>
<path d="M1365 315.6L1369.3 335.1" stroke="#c4c4c4" stroke-width="0.64" fill="none" stroke-linecap="round" stroke-linejoin="round"/>
<path d="M1289.5 346L1315 350.5" stroke="#c4c4c4" stroke-width="0.64" fill="none" stroke-linecap="round" stroke-linejoin="round"/>
<path d="M1320 352.5C1322.5 352.7 1332.1 353.4 1337 353.8C1341.8 354.3 1350 355.3 1352.3 355.5" stroke="#c4c4c4" stroke-width="0.64" fill="none" stroke-linecap="round" stroke-linejoin="round"/>
<path d="M1354 366.6C1354.5 365.5 1355.9 362.8 1357.4 359.8C1358.9 356.7 1362.1 350.1 1364.2 346.2C1366.2 342.2 1368.9 336.3 1371 333.4C1373 330.6 1375.2 328.1 1377.8 327.1C1380.3 326 1382.6 326.3 1388 326.6C1393.3 326.9 1405.8 328.5 1413.5 329.2C1421.1 329.8 1433.8 330.2 1438.9 330.9C1444 331.5 1445.6 332.6 1447.4 333.4C1449.3 334.3 1450.9 335.3 1451.3 336.4C1451.6 337.5 1451.2 339.7 1450 341.1C1448.8 342.4 1444.9 343.5 1443.2 345.3C1441.5 347.1 1440.9 349.9 1438.9 353C1437 356 1433 362 1430.5 365.7C1427.9 369.4 1423.2 375.8 1422 377.6C1421.3 377.5 1421.5 377.8 1417.7 377.2C1413.9 376.5 1403.5 374.6 1396.5 373.4C1389.5 372.1 1377.3 369.7 1371 368.7C1364.6 367.7 1356.5 366.9 1354 366.6" stroke="#9c9c9c" stroke-width="0.72" fill="none" stroke-linecap="round" stroke-linejoin="round"/>
<path d="M1451.3 336.4C1450.7 337.9 1448.5 343.5 1447.4 346.2C1446.4 348.8 1444.6 353 1444 354.2" stroke="#9c9c9c" stroke-width="0.64" fill="none" stroke-linecap="round" stroke-linejoin="round"/>
<path d="M1444 354.2C1445.8 354.3 1453.5 354 1455.9 354.7C1458.4 355.4 1460.2 356.9 1460.2 358.9C1460.2 361 1457.9 364.7 1455.9 368.3C1454 371.8 1450 378.2 1447.4 382.7C1444.9 387.2 1441.5 393.5 1438.9 398C1436.4 402.5 1432.6 410.4 1430.5 412.4C1428.3 414.5 1425.9 412.9 1424.9 411.6C1423.9 410.3 1423.8 405.1 1423.7 403.9" stroke="#9c9c9c" stroke-width="0.72" fill="none" stroke-linecap="round" stroke-linejoin="round"/>
<path d="M1452.5 358.1C1451.1 360.4 1446.8 367.4 1443.2 373.4C1439.6 379.4 1430.9 394.3 1428.8 398" stroke="#c4c4c4" stroke-width="0.64" fill="none" stroke-linecap="round" stroke-linejoin="round"/>
<path d="M1442.3 361.5L1426.2 387" stroke="#c4c4c4" stroke-width="0.64" fill="none" stroke-linecap="round" stroke-linejoin="round"/>
<path d="M1332.7 397.1C1333 396 1333.8 392.3 1334.4 389.5C1335.1 386.7 1335.3 381.3 1337 378.5C1338.6 375.7 1342.9 372.4 1345.5 370.8C1348 369.2 1350.2 368.1 1354 367.8C1357.8 367.6 1364.6 368.2 1371 369.1C1377.3 370 1389.5 372.5 1396.5 373.8C1403.5 375.1 1414.1 376.8 1417.7 377.6C1421.3 378.4 1420 378.5 1420.3 379.3C1420.5 380.1 1420.4 381.3 1419.4 382.7C1418.4 384.1 1415 387.6 1413.5 388.7C1411.9 389.7 1414.3 390.2 1409.2 389.9C1404.1 389.7 1387.1 387.8 1379.5 387C1371.8 386.1 1362.2 384.4 1358.2 384C1354.3 383.6 1355 384.1 1353.1 384.4C1351.2 384.7 1347.7 385.2 1345.5 386.1C1343.3 387 1340.6 388.7 1338.7 390.4C1336.8 392 1333.6 396.1 1332.7 397.1" stroke="#9c9c9c" stroke-width="0.72" fill="none" stroke-linecap="round" stroke-linejoin="round"/>
<path d="M1413.5 388.7C1413.3 389.4 1413.4 392.7 1412.6 393.8C1411.8 394.8 1413.3 395.4 1408.4 395.5C1403.4 395.5 1387 394.7 1379.5 394.2C1372 393.7 1361.4 392.4 1358.2 392.1" stroke="#9c9c9c" stroke-width="0.64" fill="none" stroke-linecap="round" stroke-linejoin="round"/>
<path d="M1358.2 384C1358.1 385.2 1358.3 390.3 1357.4 392.1C1356.5 393.8 1353.6 393.7 1352.3 395.5C1351 397.2 1349.5 401 1348.9 403.9C1348.2 406.9 1348.2 413.3 1348 415" stroke="#9c9c9c" stroke-width="0.64" fill="none" stroke-linecap="round" stroke-linejoin="round"/>
<path d="M1408.4 395.5C1409.8 395.3 1415.7 394.1 1417.7 394.6C1419.7 395.1 1421.1 397.4 1422 398.8C1422.8 400.3 1423.3 401.5 1423.7 403.9C1424 406.4 1424.4 413.3 1424.5 415" stroke="#9c9c9c" stroke-width="0.64" fill="none" stroke-linecap="round" stroke-linejoin="round"/>
<path d="M1332.7 397.1C1333.4 396.8 1335.1 395.9 1337 394.6C1338.9 393.3 1344.2 389.2 1345.5 388.2" stroke="#6c6c6c" stroke-width="0.72" fill="none" stroke-linecap="round" stroke-linejoin="round"/>
<circle cx="1375.6" cy="409" r="5.8" fill="none" stroke="#9c9c9c" stroke-width="1"/>
<circle cx="1376.1" cy="409.5" r="3" fill="none" stroke="#9c9c9c" stroke-width="0.8"/>
<path d="M1333 397C1332.8 399.7 1331.6 407.8 1331.5 415C1331.4 422.2 1332.2 436 1332.2 445C1332.2 454 1331.4 469.8 1331.5 475C1331.6 480.2 1331 478.1 1333 479.5C1335 480.8 1342.1 483.5 1345 484C1347.9 484.4 1351.4 482.7 1352.5 482.5" stroke="#9c9c9c" stroke-width="0.72" fill="none" stroke-linecap="round" stroke-linejoin="round"/>
<path d="M1349.5 400C1349.3 404.5 1348.4 417.8 1348 430C1347.5 442.1 1346.7 473.3 1346.5 481" stroke="#c4c4c4" stroke-width="0.64" fill="none" stroke-linecap="round" stroke-linejoin="round"/>
<path d="M1422.2 415C1422.2 419.5 1422.8 438.2 1422.2 445C1421.7 451.7 1420.2 457.3 1418.5 460C1416.8 462.7 1420.9 459.6 1411 463C1401.1 466.4 1361.3 479.6 1352.5 482.5" stroke="#9c9c9c" stroke-width="0.72" fill="none" stroke-linecap="round" stroke-linejoin="round"/>
<path d="M1405 464.5C1405.1 464.9 1404.8 467.2 1405.7 467.5C1406.6 467.8 1410.2 466.9 1411 466.7" stroke="#9c9c9c" stroke-width="0.64" fill="none" stroke-linecap="round" stroke-linejoin="round"/>
<path d="M1286 350C1285.8 350.4 1284.9 350.9 1284.3 352.5C1283.7 354.2 1284.2 360.3 1282.2 361C1280.1 361.8 1275.6 358.4 1270.7 357.8C1265.8 357.3 1255.8 357.4 1249.5 357.5C1243.1 357.6 1232.6 358.1 1228.2 358.5C1223.9 358.9 1222.2 359.3 1220.6 360.2C1218.9 361.1 1217.8 363 1217.2 364.4C1216.6 365.8 1217 367.9 1216.3 369.5C1215.7 371.2 1213.7 373.3 1212.9 375.5C1212.2 377.7 1211.5 380.2 1211.2 384C1211 387.8 1211.1 398.4 1211.1 401" stroke="#9c9c9c" stroke-width="0.72" fill="none" stroke-linecap="round" stroke-linejoin="round"/>
<path d="M1216.3 369.5C1216.6 369.9 1216.9 371.5 1218 372.1C1219.2 372.7 1222.1 372.4 1224 373.8C1225.9 375.2 1229.8 380.3 1230.8 381.4" stroke="#9c9c9c" stroke-width="0.72" fill="none" stroke-linecap="round" stroke-linejoin="round"/>
<path d="M1222.3 368.3C1222.9 369 1225.1 371.1 1226.5 372.9C1227.9 374.8 1230.9 379.4 1231.6 380.6" stroke="#6c6c6c" stroke-width="0.72" fill="none" stroke-linecap="round" stroke-linejoin="round"/>
<path d="M1230.8 381.4C1233.6 381.4 1242.8 381 1249.5 381C1256.1 381 1267.3 381 1275 381.4C1282.6 381.9 1293.4 383.1 1300.5 384C1307.5 384.9 1317.4 386.5 1321.7 387.4C1326 388.3 1327.7 388.9 1329.3 389.9C1331 391 1332.2 393.5 1332.7 394.2" stroke="#9c9c9c" stroke-width="0.72" fill="none" stroke-linecap="round" stroke-linejoin="round"/>
<path d="M1240.1 397.6C1241.5 396.9 1245.5 394.4 1249.5 393.3C1253.4 392.3 1260.1 391.3 1266.5 390.8C1272.8 390.3 1284.3 389.8 1292 389.9C1299.6 390.1 1311.7 391 1317.4 391.6C1323.2 392.3 1328.3 393.8 1330.2 394.2" stroke="#c4c4c4" stroke-width="0.64" fill="none" stroke-linecap="round" stroke-linejoin="round"/>
<path d="M1241 398.4C1243.5 398.8 1252.9 400.1 1258 401C1263.1 401.9 1269.9 403.2 1275 404.4C1280.1 405.5 1287.5 407.5 1292 408.6C1296.4 409.8 1302.8 411.5 1304.7 412" stroke="#c4c4c4" stroke-width="0.64" fill="none" stroke-linecap="round" stroke-linejoin="round"/>
<path d="M1240.1 397.6C1238 397.6 1230 396.9 1225.7 397.6C1221.4 398.2 1214.7 400.2 1211.2 401.8C1207.8 403.5 1204 407.6 1202.7 408.6C1202.9 409.5 1200.4 413.3 1203.6 414.6C1206.8 415.8 1217.1 416.2 1224 417.1C1230.9 418 1243.1 419.6 1249.5 420.5C1255.8 421.4 1262.5 422.2 1266.5 423.1C1270.4 424 1274.4 426 1275.8 426.5C1276.2 426.1 1274.3 425.9 1278.4 423.9C1282.4 421.9 1298.7 415 1303 413.3C1307.3 411.6 1306.6 412.9 1307.2 412.9" stroke="#9c9c9c" stroke-width="0.72" fill="none" stroke-linecap="round" stroke-linejoin="round"/>
<path d="M1201.9 410.3L1204.4 415.4" stroke="#9c9c9c" stroke-width="0.64" fill="none" stroke-linecap="round" stroke-linejoin="round"/>
<path d="M1212.1 416.7C1212.3 418.2 1213 423 1213.8 426.5C1214.6 430 1216.3 437.4 1217.2 440.1C1218.1 442.7 1217.2 443 1219.7 444.3C1222.3 445.6 1231.5 447.5 1234.2 449C1236.9 450.5 1236.6 453.5 1237.6 454.5C1238.6 455.5 1240.2 455.7 1241 455.4C1241.7 455 1238.9 451.3 1242.7 452C1246.5 452.6 1260.5 457.7 1266.5 459.6C1272.5 461.5 1280.1 463.6 1282.6 464.7C1285.2 465.8 1282.9 466.8 1283.5 467.2C1284 467.7 1285.5 467.9 1286 467.7C1286.5 467.5 1284.7 465.7 1286.9 466C1289 466.3 1298.2 468.8 1300.5 469.8C1302.7 470.8 1301.6 472.2 1302.1 472.3C1302.7 472.5 1299.8 469.9 1303.8 470.6C1307.9 471.4 1325.1 476 1329.3 477.4C1333.5 478.8 1331.5 479.6 1331.9 480" stroke="#9c9c9c" stroke-width="0.72" fill="none" stroke-linecap="round" stroke-linejoin="round"/>
<path d="M1332.7 394.2C1333 395.2 1334.3 398.7 1334.4 401C1334.6 403.3 1333.6 404.4 1333.6 409.5C1333.6 414.6 1334.6 427.3 1334.4 435C1334.3 442.6 1333.2 454.1 1332.7 460.5C1332.2 466.8 1331.3 474.9 1331 477.4" stroke="#9c9c9c" stroke-width="0.72" fill="none" stroke-linecap="round" stroke-linejoin="round"/>
<path d="M1232.5 420.5C1234 422 1239.9 427.9 1242.7 430.7C1245.5 433.5 1248.9 438.3 1251.2 439.2C1253.5 440.1 1256.1 436.3 1258 436.7C1259.9 437 1261.4 441.6 1263.9 441.8C1266.5 441.9 1272.7 438.7 1275 437.5C1277.3 436.4 1278.6 434.6 1279.2 434.1" stroke="#9c9c9c" stroke-width="0.64" fill="none" stroke-linecap="round" stroke-linejoin="round"/>
<path d="M1235.9 421.4C1237.9 423.4 1246.7 433.4 1249.5 435C1252.3 436.5 1252.7 431.6 1254.6 431.6C1256.5 431.6 1259.7 435.2 1262.2 435C1264.8 434.7 1269.7 431 1271.6 429.9C1273.5 428.7 1274.5 427.7 1275 427.3" stroke="#9c9c9c" stroke-width="0.64" fill="none" stroke-linecap="round" stroke-linejoin="round"/>
<path d="M1249.5 423.9L1254.6 431.6" stroke="#9c9c9c" stroke-width="0.64" fill="none" stroke-linecap="round" stroke-linejoin="round"/>
<path d="M1303 413.3L1278.4 429" stroke="#9c9c9c" stroke-width="0.64" fill="none" stroke-linecap="round" stroke-linejoin="round"/>
<path d="M1312.3 425.6C1312.6 426 1314.8 426.6 1314 428.2C1313.3 429.7 1308.3 434.7 1307.2 435.8" stroke="#9c9c9c" stroke-width="0.64" fill="none" stroke-linecap="round" stroke-linejoin="round"/>
<path d="M1294.5 424.8C1295.4 425.8 1300.2 428.8 1300.5 431.6C1300.7 434.4 1296.8 441.7 1296.2 443.5" stroke="#9c9c9c" stroke-width="0.64" fill="none" stroke-linecap="round" stroke-linejoin="round"/>
<path d="M1279.2 439.2L1281.8 447.7" stroke="#9c9c9c" stroke-width="0.64" fill="none" stroke-linecap="round" stroke-linejoin="round"/>
<path d="M1313.2 445.2C1314.1 445.9 1317.2 448.9 1319.1 450.3C1321.1 451.7 1324.9 453.9 1325.9 454.5" stroke="#9c9c9c" stroke-width="0.64" fill="none" stroke-linecap="round" stroke-linejoin="round"/>
<path d="M1278.4 429.9L1287.7 443.5" stroke="#6c6c6c" stroke-width="1.12" fill="none" stroke-linecap="round" stroke-linejoin="round"/>
<path d="M1307.2 435L1313.2 444.3" stroke="#6c6c6c" stroke-width="1.28" fill="none" stroke-linecap="round" stroke-linejoin="round"/>
<circle cx="1278.4" cy="429.9" r="1.6" fill="#6c6c6c"/>
<circle cx="1306" cy="413.1" r="1.2" fill="#6c6c6c"/>
<path d="M610.6 362L644.5 561" stroke="#1c1c1c" stroke-width="1.25" fill="none"/>
<path d="M976.4 343.4L1017.2 480" stroke="#1c1c1c" stroke-width="1.25" fill="none"/>
<path d="M619.6 392.1L984.5 377.1" stroke="#1c1c1c" stroke-width="1.25" fill="none"/>
<path d="M619.6 392.1L636.3 384.1L633.5 391.5L636.9 398.7Z" fill="#1c1c1c"/>
<path d="M984.5 377.1L967.8 385.1L970.6 377.7L967.2 370.5Z" fill="#1c1c1c"/>
<text transform="translate(805.7 361.5) rotate(-2.4)" x="0" y="14.5" font-size="40.6" text-anchor="middle" fill="#222">72cm</text>
<path d="M546.6 463.7L859.2 450.1" stroke="#1c1c1c" stroke-width="1.25" fill="none"/>
<path d="M568.5 473.9L568.5 1074.2" stroke="#1c1c1c" stroke-width="1.25" fill="none"/>
<path d="M568.5 473.9L575.8 490.9L568.5 487.8L561.2 490.9Z" fill="#1c1c1c"/>
<path d="M568.5 1074.2L561.2 1057.2L568.5 1060.3L575.8 1057.2Z" fill="#1c1c1c"/>
<text transform="translate(547.2 774.3) rotate(-90)" x="0" y="14.5" font-size="40.6" text-anchor="middle" fill="#222">101cm</text>
<path d="M605.2 789.3L892.2 778.7" stroke="#1c1c1c" stroke-width="1.25" fill="none"/>
<path d="M618.1 796.2L618.1 1070.3" stroke="#1c1c1c" stroke-width="1.25" fill="none"/>
<path d="M618.1 796.2L625.4 813.2L618.1 810.1L610.8 813.2Z" fill="#1c1c1c"/>
<path d="M618.1 1070.3L610.8 1053.3L618.1 1056.4L625.4 1053.3Z" fill="#1c1c1c"/>
<text transform="translate(596.8 931.4) rotate(-90)" x="0" y="14.5" font-size="40.6" text-anchor="middle" fill="#222">62cm</text>
<path d="M661.7 934.4L1030.5 893.3" stroke="#1c1c1c" stroke-width="1.25" fill="none"/>
<path d="M671.9 939L671.9 1060.7" stroke="#1c1c1c" stroke-width="1.25" fill="none"/>
<path d="M671.9 939L679.2 956L671.9 952.9L664.6 956Z" fill="#1c1c1c"/>
<path d="M671.9 1060.7L664.6 1043.7L671.9 1046.8L679.2 1043.7Z" fill="#1c1c1c"/>
<text transform="translate(650.6 998.2) rotate(-90)" x="0" y="14.5" font-size="40.6" text-anchor="middle" fill="#222">48cm</text>
<path d="M557.1 1081.1L719.4 1059.2" stroke="#1c1c1c" stroke-width="1.25" fill="none"/>
<path d="M934.3 817.2L1348.7 751.1" stroke="#1c1c1c" stroke-width="1.25" fill="none"/>
<path d="M934.3 817.2L949.9 807.3L948.1 815L952.2 821.7Z" fill="#1c1c1c"/>
<path d="M1348.7 751.1L1333.1 761L1334.9 753.3L1330.8 746.6Z" fill="#1c1c1c"/>
<text transform="translate(1078.7 769.3) rotate(-8.6)" x="0" y="14.5" font-size="40.6" text-anchor="middle" fill="#222">80cm</text>
<path d="M1040.6 836.8L1184.8 877.3" stroke="#1c1c1c" stroke-width="1.25" fill="none"/>
<path d="M1040.6 836.8L1058.9 834.4L1054 840.6L1055 848.4Z" fill="#1c1c1c"/>
<path d="M1184.8 877.3L1166.5 879.7L1171.4 873.5L1170.4 865.7Z" fill="#1c1c1c"/>
<text transform="translate(1128.7 837.8) rotate(16)" x="0" y="14.5" font-size="40.6" text-anchor="middle" fill="#222">54cm</text>
<path d="M1030 877.3L1190.9 948" stroke="#1c1c1c" stroke-width="1.25" fill="none"/>
<path d="M1163.8 931.4L1464.4 892.4" stroke="#1c1c1c" stroke-width="1.25" fill="none"/>
<path d="M1163.8 931.4L1179.7 922L1177.6 929.6L1181.6 936.5Z" fill="#1c1c1c"/>
<path d="M1464.4 892.4L1448.5 901.8L1450.6 894.2L1446.6 887.3Z" fill="#1c1c1c"/>
<path d="M1252.5 841.3L1484.5 892.4" stroke="#1c1c1c" stroke-width="1.25" fill="none"/>
<text transform="translate(1328.8 934) rotate(-6.8)" x="0" y="14.5" font-size="40.6" text-anchor="middle" fill="#222">45cm</text>
<path d="M1411.8 981L1411.8 1134.5" stroke="#1c1c1c" stroke-width="1.25" fill="none"/>
<path d="M1411.8 1083L1404.5 1066L1411.8 1069.1L1419.1 1066Z" fill="#1c1c1c"/>
<path d="M1411.8 1106L1419.1 1123L1411.8 1119.9L1404.5 1123Z" fill="#1c1c1c"/>
<text transform="translate(1390.7 1025.2) rotate(-90)" x="0" y="14.5" font-size="40.6" text-anchor="middle" fill="#222">5cm</text>
<path d="M1342.6 1105.8L1464.4 1070" stroke="#1c1c1c" stroke-width="1.25" fill="none"/>
<path d="M1239.5 1157L1419.3 1104.3" stroke="#1c1c1c" stroke-width="1.25" fill="none"/>
<path d="M1353.2 1104L1479.4 1158.4" stroke="#1c1c1c" stroke-width="1.25" fill="none"/>
<path d="M621.7 1078.7L863.7 1245.9" stroke="#1c1c1c" stroke-width="1.25" fill="none"/>
<path d="M621.7 1078.7L639.8 1082.4L633.2 1086.6L631.5 1094.4Z" fill="#1c1c1c"/>
<path d="M863.7 1245.9L845.6 1242.2L852.2 1238L853.9 1230.2Z" fill="#1c1c1c"/>
<text transform="translate(760.3 1148.5) rotate(34.6)" x="0" y="14.5" font-size="40.6" text-anchor="middle" fill="#222">89cm</text>
<path d="M551.7 1093.8L928.3 1355.3" stroke="#1c1c1c" stroke-width="1.25" fill="none"/>
<path d="M551.7 1093.8L569.8 1097.5L563.2 1101.8L561.5 1109.5Z" fill="#1c1c1c"/>
<path d="M928.3 1355.3L910.2 1351.6L916.8 1347.3L918.5 1339.6Z" fill="#1c1c1c"/>
<text transform="translate(693.4 1221.6) rotate(34.8)" x="0" y="14.5" font-size="40.6" text-anchor="middle" fill="#222">94-164cm</text>
<path d="M850.2 1251.9L959.9 1219.4" stroke="#1c1c1c" stroke-width="1.25" fill="none"/>
<path d="M959.9 1219.4L1072.6 1286.1" stroke="#1c1c1c" stroke-width="1.25" fill="none"/>
<path d="M1065.5 1272.9L1462.9 1156.3" stroke="#1c1c1c" stroke-width="1.25" fill="none"/>
<path d="M1065.5 1272.9L1079.8 1261.1L1078.9 1269L1083.9 1275.1Z" fill="#1c1c1c"/>
<path d="M1462.9 1156.3L1448.6 1168.1L1449.5 1160.2L1444.5 1154.1Z" fill="#1c1c1c"/>
<text transform="translate(1239.9 1202) rotate(-16.4)" x="0" y="14.5" font-size="40.6" text-anchor="middle" fill="#222">78cm</text>
<path d="M939.4 1348.7L1509.5 1180.9" stroke="#1c1c1c" stroke-width="1.25" fill="none"/>
<path d="M939.4 1348.7L953.6 1336.9L952.8 1344.8L957.8 1350.9Z" fill="#1c1c1c"/>
<path d="M1509.5 1180.9L1495.3 1192.7L1496.1 1184.8L1491.1 1178.7Z" fill="#1c1c1c"/>
<text transform="translate(1261.5 1281) rotate(-16.4)" x="0" y="14.5" font-size="40.6" text-anchor="middle" fill="#222">80cm</text>
<text transform="translate(524.8 94.2) scale(1 1.04)" font-size="62.2" fill="#282828">SPENCER</text>
<path d="M1006.3 133.6L1138.8 133.6" stroke="#7a7a7a" stroke-width="1.6" fill="none"/>
<path d="M1006.3 133.6L1018.3 129.6L1016.1 133.6L1018.3 137.6Z" fill="#7a7a7a"/>
<path d="M1138.8 133.6L1126.8 137.6L1129 133.6L1126.8 129.6Z" fill="#7a7a7a"/>
<path d="M970.2 219.6L1171 219.6" stroke="#7a7a7a" stroke-width="1.6" fill="none"/>
<path d="M970.2 219.6L982.2 215.6L980 219.6L982.2 223.6Z" fill="#7a7a7a"/>
<path d="M1171 219.6L1159 223.6L1161.2 219.6L1159 215.6Z" fill="#7a7a7a"/>
<path d="M970.2 171.8L970.2 226.7" stroke="#7a7a7a" stroke-width="1.3" fill="none"/>
<path d="M1171 171.8L1171 226.7" stroke="#7a7a7a" stroke-width="1.3" fill="none"/>
<path d="M1240.2 133.4L1441 133.4" stroke="#7a7a7a" stroke-width="1.6" fill="none"/>
<path d="M1240.2 133.4L1252.2 129.4L1250 133.4L1252.2 137.4Z" fill="#7a7a7a"/>
<path d="M1441 133.4L1429 137.4L1431.2 133.4L1429 129.4Z" fill="#7a7a7a"/>
<path d="M1203.8 220.4L1473.2 220.4" stroke="#7a7a7a" stroke-width="1.6" fill="none"/>
<path d="M1203.8 220.4L1215.8 216.4L1213.6 220.4L1215.8 224.4Z" fill="#7a7a7a"/>
<path d="M1473.2 220.4L1461.2 224.4L1463.4 220.4L1461.2 216.4Z" fill="#7a7a7a"/>
<path d="M1203.8 171.8L1203.8 226.7" stroke="#7a7a7a" stroke-width="1.3" fill="none"/>
<path d="M1473.2 171.8L1473.2 226.7" stroke="#7a7a7a" stroke-width="1.3" fill="none"/>
<text transform="translate(1071.8 117.6) rotate(0)" x="0" y="10.9" font-size="30.5" text-anchor="middle" fill="#222">98cm</text>
<text transform="translate(1071.8 250.2) rotate(0)" x="0" y="10.9" font-size="30.5" text-anchor="middle" fill="#222">136cm</text>
<text transform="translate(1340.3 116.5) rotate(0)" x="0" y="10.9" font-size="30.5" text-anchor="middle" fill="#222">156cm</text>
<text transform="translate(1340.3 250.2) rotate(0)" x="0" y="10.9" font-size="30.5" text-anchor="middle" fill="#222">193cm</text>
<rect x="1337.4" y="1447" width="145.8" height="25.4" rx="12.7" fill="none" stroke="#a0a0a0" stroke-width="1"/>
<text x="1348.6" y="1466.9" font-size="19.3" font-weight="bold" font-style="italic" fill="#8c8c8c" stroke="#8c8c8c" stroke-width="0.7" textLength="126.5" lengthAdjust="spacingAndGlyphs">SIGNAL</text>
<text x="1414.5" y="1482.8" font-size="11" fill="#aaa" letter-spacing="6.4">meble</text>
</svg>
</body></html>
